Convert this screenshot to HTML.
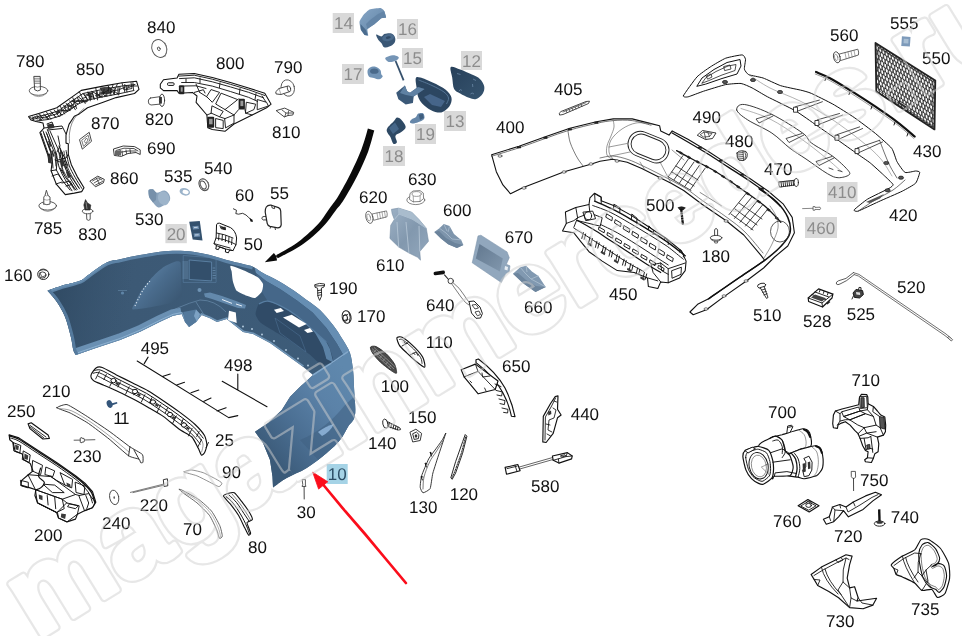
<!DOCTYPE html>
<html><head><meta charset="utf-8"><title>Parts diagram</title>
<style>
html,body{margin:0;padding:0;background:#fff;}
svg{display:block;}
text{font-family:"Liberation Sans",sans-serif;text-rendering:geometricPrecision;}
.l{font-size:17px;fill:#111;}
.p{fill:#fff;stroke:#333;stroke-width:0.8;stroke-linejoin:round;stroke-linecap:round;}
.n{fill:none;stroke:#333;stroke-width:0.7;stroke-linejoin:round;stroke-linecap:round;}
.t{fill:none;stroke:#555;stroke-width:0.5;stroke-linejoin:round;stroke-linecap:round;}
</style></head><body>
<svg width="962" height="636" viewBox="0 0 962 636">
<rect width="962" height="636" fill="#fff"/>

<!-- b_bumper -->
<g>
<defs>
<linearGradient id="bg1" gradientUnits="userSpaceOnUse" x1="47" y1="300" x2="330" y2="300"><stop offset="0" stop-color="#36526d"/><stop offset="0.3" stop-color="#3c5975"/><stop offset="1" stop-color="#3d5c79"/></linearGradient>
<linearGradient id="bg2" gradientUnits="userSpaceOnUse" x1="262" y1="450" x2="350" y2="375"><stop offset="0" stop-color="#3b5a78"/><stop offset="0.35" stop-color="#4b6f93"/><stop offset="0.7" stop-color="#5b82a8"/><stop offset="1" stop-color="#5f88ad"/></linearGradient>
<linearGradient id="bg3" gradientUnits="userSpaceOnUse" x1="138" y1="275" x2="172" y2="305"><stop offset="0" stop-color="#5d82a5"/><stop offset="0.45" stop-color="#4a6c8d"/><stop offset="1" stop-color="#3c5975"/></linearGradient>
<linearGradient id="bg4" gradientUnits="userSpaceOnUse" x1="50" y1="280" x2="130" y2="300"><stop offset="0" stop-color="#2f4962"/><stop offset="1" stop-color="#3a5671" stop-opacity="0"/></linearGradient>
</defs>
<clipPath id="bclip"><path d="M47.5 290.8 C49.9 290 56.3 287.5 61.7 285.8 C67.1 284.1 75.6 282.6 80 280.8 C84.4 279 83.8 278.1 88.3 275 C92.8 271.9 101.4 265.1 106.7 262.5 C112 259.9 114.5 260.4 120 259.2 C125.5 257.9 133.3 256.2 140 255 C146.7 253.8 153.9 252.4 160 251.7 C166.1 251 171.2 250.8 176.7 250.8 C182.2 250.8 187.4 251 193 251.7 C198.6 252.4 204.4 253.6 210 255 C215.6 256.4 221.2 258.5 226.7 260 C232.2 261.5 238.6 262.9 243 264 C247.4 265.1 249.7 265.2 253 266.7 C256.3 268.2 259.1 270.8 263 273 C266.9 275.2 271.7 277.2 276.7 280 C281.7 282.8 288 286.7 293 290 C298 293.3 302.2 296.7 306.7 300 C311.2 303.3 315.6 305.8 320 310 C324.4 314.2 329.2 320 333 325 C336.8 330 340.2 335.3 343 340 C345.8 344.7 348.3 348 350 353 C351.7 358 352.3 364.4 353 370 C353.7 375.6 353.7 379.2 354 386.7 C354.3 394.2 356 408.3 355 415 C354 421.7 350.5 422.5 348 426.7 C345.5 430.9 343.6 435.6 340 440 C336.4 444.4 332.2 448.3 326.7 453 C321.1 457.7 313.4 463.8 306.7 468 C300 472.2 292.3 474.8 286.7 478 C281.1 481.2 275.3 485.9 273 487.5 L272.5 476.7 L270 460 L263 443 L255 431.7 L268 423 L281.7 410 L290 396.7 L300 386.7 L313 375 L303 366.7 L286.7 355 L270 343 L253 334 L243 332 L238 328 L226.7 319 L217 322 L210 318.3 L201.7 315 L196 322 L189 327 L185 322 L181.7 314 L173 315.8 L160 321.7 L140 331.7 L120 340 L95 348.3 L75.8 355 L75.8 355 C75.4 354.2 74.1 353.1 73.3 350 C72.5 346.9 72.2 342.2 70.8 336.7 C69.4 331.1 67.3 322.5 65 316.7 C62.6 310.9 59.6 306 56.7 301.7 C53.8 297.4 49 292.6 47.5 290.8Z"/></clipPath>
<path d="M47.5 290.8 C49.9 290 56.3 287.5 61.7 285.8 C67.1 284.1 75.6 282.6 80 280.8 C84.4 279 83.8 278.1 88.3 275 C92.8 271.9 101.4 265.1 106.7 262.5 C112 259.9 114.5 260.4 120 259.2 C125.5 257.9 133.3 256.2 140 255 C146.7 253.8 153.9 252.4 160 251.7 C166.1 251 171.2 250.8 176.7 250.8 C182.2 250.8 187.4 251 193 251.7 C198.6 252.4 204.4 253.6 210 255 C215.6 256.4 221.2 258.5 226.7 260 C232.2 261.5 238.6 262.9 243 264 C247.4 265.1 249.7 265.2 253 266.7 C256.3 268.2 259.1 270.8 263 273 C266.9 275.2 271.7 277.2 276.7 280 C281.7 282.8 288 286.7 293 290 C298 293.3 302.2 296.7 306.7 300 C311.2 303.3 315.6 305.8 320 310 C324.4 314.2 329.2 320 333 325 C336.8 330 340.2 335.3 343 340 C345.8 344.7 348.3 348 350 353 C351.7 358 352.3 364.4 353 370 C353.7 375.6 353.7 379.2 354 386.7 C354.3 394.2 356 408.3 355 415 C354 421.7 350.5 422.5 348 426.7 C345.5 430.9 343.6 435.6 340 440 C336.4 444.4 332.2 448.3 326.7 453 C321.1 457.7 313.4 463.8 306.7 468 C300 472.2 292.3 474.8 286.7 478 C281.1 481.2 275.3 485.9 273 487.5 L272.5 476.7 L270 460 L263 443 L255 431.7 L268 423 L281.7 410 L290 396.7 L300 386.7 L313 375 L303 366.7 L286.7 355 L270 343 L253 334 L243 332 L238 328 L226.7 319 L217 322 L210 318.3 L201.7 315 L196 322 L189 327 L185 322 L181.7 314 L173 315.8 L160 321.7 L140 331.7 L120 340 L95 348.3 L75.8 355 L75.8 355 C75.4 354.2 74.1 353.1 73.3 350 C72.5 346.9 72.2 342.2 70.8 336.7 C69.4 331.1 67.3 322.5 65 316.7 C62.6 310.9 59.6 306 56.7 301.7 C53.8 297.4 49 292.6 47.5 290.8Z" fill="url(#bg1)"/>
<g clip-path="url(#bclip)">
<path d="M40 250 L140 250 L140 365 L40 365Z" fill="url(#bg4)"/>
<path d="M313 375 L330 364 L348 351.7 L356 362 L360 390 L360 415 L348 430 L340 444 L326.7 457 L306.7 472 L286.7 482 L273 492 L268 476.7 L266 460 L260 443 L250 431.7 L268 423 L281.7 410 L290 396.7 L300 386.7Z" fill="url(#bg2)"/>
<path d="M300 440 Q325 430 345 405 L356 395 L356 430 L320 462 Z" fill="#3f6182" opacity="0.55"/>
<path d="M318 432 Q326 426 334 424 Q330 432 322 436Z" fill="#86abd0"/>
<path d="M253 262 L263 270 L276.7 277 L293 287 L306.7 297 L320 307 L333 322 L344 338 L352 353 L356 362 L348 351.7 L343.7 355.7 L336.8 343.6 L326.4 328 L312.6 312.5 L297 300.4 L280 289 L266 281 L256 273Z" fill="#668eb3"/>
<path d="M256 273 L266 281 L280 289 L297 300.4 L312.6 312.5 L326.4 328 L336.8 343.6 L343.7 355.7 L333.3 362.6 L329.9 348.8 L326.4 341.9 L312.6 329.8 L297 315.9 L281.5 306.4 L267.7 301.2 L262 292Z" fill="#456789"/>
<path d="M259 303.8 C260.2 302.5 265.4 300.9 267.7 301.2 C269.9 301.5 278.6 304.9 281.5 306.4 C284.4 307.9 293.9 313.6 297 315.9 C300.1 318.2 309.7 327.2 312.6 329.8 C315.5 332.4 324.7 340 326.4 341.9 C328.1 343.8 329.2 346.7 329.9 348.8 C330.6 350.9 334.2 361.1 333.3 362.6 C332.4 364.2 323.6 365.2 321.2 364.3 C318.8 363.4 312 356.2 309.1 354 C306.2 351.8 295.3 344.1 291.9 341.9 C288.4 339.6 277.7 333.4 274.6 331.5 C271.5 329.6 262.6 324.5 260.7 322.8 C258.8 321.1 255.8 316.1 255.6 314.2 C255.4 312.3 257.8 305.1 259 303.8Z" fill="#304b67"/>
<path d="M314.3 331.5 L326.4 341.9 L330 349 L333.3 362.6 L326.4 359.1 L323 347Z" fill="#5b82a6"/>
<path d="M259 303.8 C260.4 303.4 263.9 300.8 267.7 301.2 C271.4 301.6 276.6 303.9 281.5 306.4 C286.4 308.8 291.8 312 297 315.9 C302.2 319.8 307.7 325.5 312.6 329.8 C317.5 334.1 324.1 339.9 326.4 341.9" fill="none" stroke="#587ea2" stroke-width="1.2"/>
<path d="M275 318 L300 336 L306 352 L280 333Z" fill="none" stroke="#4c6f92" stroke-width="0.6"/>
<path d="M313 375 L330 364 L348 351.7" fill="none" stroke="#83a8ca" stroke-width="1.5"/>
<path d="M47.5 290.8 C49.9 290 56.3 287.5 61.7 285.8 C67.1 284.1 75.6 282.6 80 280.8 C84.4 279 83.8 278.1 88.3 275 C92.8 271.9 101.4 265.1 106.7 262.5 C112 259.9 114.5 260.4 120 259.2 C125.5 257.9 133.3 256.2 140 255 C146.7 253.8 153.9 252.4 160 251.7 C166.1 251 171.2 250.8 176.7 250.8 C182.2 250.8 187.4 251 193 251.7 C198.6 252.4 204.4 253.6 210 255 C215.6 256.4 221.2 258.5 226.7 260 C232.2 261.5 238.6 262.9 243 264 C247.4 265.1 251.3 266.2 253 266.7" fill="none" stroke="#5d83a6" stroke-width="6"/>
<path d="M47.5 290.8 C49.9 290 56.3 287.5 61.7 285.8 C67.1 284.1 75.6 282.6 80 280.8 C84.4 279 83.8 278.1 88.3 275 C92.8 271.9 103.6 264.6 106.7 262.5" fill="none" stroke="#6a90b2" stroke-width="3"/>
<path d="M303 366.7 L286.7 355 L270 343 L253 334 L243 332 L238 328 L226.7 319 L217 322 L210 318.3 L201.7 315 L196 322 L189 327 L185 322 L181.7 314 L173 315.8 L160 321.7 L140 331.7 L120 340 L95 348.3 L75.8 355" fill="none" stroke="#6f94b5" stroke-width="3.2"/>
<path d="M181.7 314 L173 315.8 L160 321.7 L140 331.7 L120 340 L95 348.3 L75.8 355" fill="none" stroke="#6a90b3" stroke-width="13"/>
<path d="M181.7 312.5 L173 314.3 L160 320.2 L140 330.2 L120 338.5 L95 346.8 L77 353" fill="none" stroke="#8fb2d1" stroke-width="1"/>
<path d="M75.8 355 C75.4 354.2 74.1 353.1 73.3 350 C72.5 346.9 72.2 342.2 70.8 336.7 C69.4 331.1 67.3 322.5 65 316.7 C62.6 310.9 59.6 306 56.7 301.7 C53.8 297.4 49 292.6 47.5 290.8" fill="none" stroke="#557a9d" stroke-width="6"/>
<path d="M132.4 309.2 C131.3 308.5 135.1 302.8 136 301 C136.9 299.2 139.6 293.2 141 291 C142.4 288.8 148.6 281.3 150.3 279.4 C152 277.4 156.5 272.9 158 271.5 C159.5 270.1 163.5 266.9 165.3 265.9 C167.1 264.9 174.2 261.7 175.7 261.4 C177.2 261.1 180 261.1 180.5 262.5 C181 263.9 180.9 272.4 181 275 C181.1 277.6 181.4 286.8 181.5 289 C181.6 291.2 182.9 295.9 181.7 297.3 C180.5 298.7 173.2 302.2 169.8 303.3 C166.4 304.4 151.1 307.2 147.4 307.8 C143.7 308.4 133.5 309.9 132.4 309.2Z" fill="url(#bg3)"/>
<path d="M135 306 C135.7 304.6 137.5 300.4 139 297.5 C140.5 294.6 142.2 291.2 144 288.5 C145.8 285.8 149 282.2 150 281" fill="none" stroke="#e3edf5" stroke-width="1.1" stroke-dasharray="1.1 2"/>
<path d="M183.2 255.5 L216.1 258 L216.1 282.4 L183.2 282.4Z" fill="none" stroke="#5a7fa2" stroke-width="0.6"/>
<path d="M189.2 260 L211.6 262 L211.6 280.9 L189.2 279.5Z" fill="#334f6b" stroke="#5d83a6" stroke-width="0.9"/>
<path d="M182.5 262 h5.6 M182.5 264 h5.6 M182.5 266 h5.6 M182.5 268 h5.6 M182.5 270 h5.6 M182.5 272 h5.6 M182.5 274 h5.6 M182.5 276 h5.6 M182.5 278 h5.6 M212.6 268 h2.6 M212.6 270.5 h2.8 M212.6 273 h3 M212.6 275.5 h3.2 M212.6 278 h3.4" fill="none" stroke="#6e93b5" stroke-width="0.7"/>
<path d="M204 293.5 L210 292.5 L222 296 L236 301 L246 305 L245 308.5 L238 308 L225 303.5 L212 299 L205 297Z" fill="#6389ac"/>
<path d="M222 299.5 L232 303.4 M236 304 L242 306" stroke="#e6eef6" stroke-width="1" fill="none"/>
<circle cx="199.5" cy="290" r="2" fill="#6f94b5"/>
<circle cx="122.5" cy="293" r="1.6" fill="#5f85a7"/>
<path d="M118 290.5 h9" stroke="#6f94b5" stroke-width="0.5" fill="none"/>
<path d="M183.2 312 L196 309.5 L200 314 L197 322 L190 327.5 L185 322Z" fill="#54799c"/>
<path d="M196 309.5 L200 314 L197 322 L194 316Z" fill="#7da2c4"/>
<path d="M150 322 Q180 305 200 300 Q215 300 226 312 M196 302 L206 318" fill="none" stroke="#7094b4" stroke-width="0.6"/>
<circle cx="243.0" cy="326.5" r="0.9" fill="#bcd3e6"/>
<circle cx="252.0" cy="329.0" r="0.9" fill="#bcd3e6"/>
<circle cx="262.0" cy="334.5" r="0.9" fill="#bcd3e6"/>
<circle cx="274.0" cy="341.0" r="0.9" fill="#bcd3e6"/>
<circle cx="286.0" cy="350.0" r="0.9" fill="#bcd3e6"/>
<circle cx="298.0" cy="358.5" r="0.9" fill="#bcd3e6"/>
<circle cx="308.0" cy="365.5" r="0.9" fill="#bcd3e6"/>
</g>
<path d="M230.8 265.8 C232.3 265.8 244 270.5 246.7 271.7 C249.4 272.9 256.4 276.3 258 277.5 C259.6 278.7 262.6 282.6 263 284 C263.4 285.4 262.5 290.3 261.7 291.7 C260.9 293.1 256.5 297.6 255 298 C253.5 298.4 248.5 296.5 246.7 295.8 C244.9 295.1 238.1 292.2 236.7 290.8 C235.3 289.4 233.5 283.6 233 281.7 C232.5 279.8 231.9 273.3 231.7 271.7 C231.5 270.1 229.3 265.8 230.8 265.8Z" fill="#fff"/>
<path d="M229 310.8 L235.8 312.5 L236.7 323 L228 320Z" fill="#fff"/>
<path d="M274 309.7 L280.8 308 L284 311 L276.7 313Z" fill="#fff"/>
<path d="M283 317.5 L291.7 314.7 L306.7 324 L299 327.5Z" fill="#fff"/>
<path d="M304 330 L310 328 L313 331.7 L307.5 333Z" fill="#fff"/>
</g>

<!-- c_blue1 -->
<g>
<defs>
<linearGradient id="g14" x1="0" y1="0" x2="1" y2="1"><stop offset="0" stop-color="#86a6c6"/><stop offset="1" stop-color="#5e80a2"/></linearGradient>
<linearGradient id="g12" x1="0" y1="0" x2="1" y2="1"><stop offset="0" stop-color="#27405a"/><stop offset="1" stop-color="#36546f"/></linearGradient>
</defs>
<path d="M359.5 21.8 C359.7 20.5 363 15.6 363.8 14.6 C364.6 13.6 368.2 10.1 369.6 9.5 C371 8.9 379.4 7.9 380.6 8 C381.8 8.1 383.7 10.1 384.2 10.9 C384.7 11.7 386.3 16.9 386.1 17.5 C385.9 18.1 382.2 17.7 381.3 18.2 C380.4 18.7 375.8 23.1 374.7 24 C373.6 24.9 368 28.1 367.5 29.1 C367 30.1 368.4 35.2 368.2 35.7 C368 36.2 365.2 35.4 364.6 34.9 C364 34.4 361.3 30.9 360.9 29.8 C360.5 28.7 359.3 23.1 359.5 21.8Z" fill="url(#g14)"/>
<path d="M366 24 L370 20 L378 14 L384.2 10.9 L386.1 17.5 L381.3 18.2 L374.7 24 L367.5 29.1Z" fill="#6485a7"/>
<path d="M360.5 24 L366 30 L367.5 35 L364.6 34.9 L360.9 29.8Z" fill="#4b6c8e"/>
<path d="M376.2 34.6 C376.7 34 379.9 36.5 381.3 36.4 C382.8 36.3 383.2 34.3 384.9 33.8 C386.6 33.3 389.8 32.8 391.5 33.5 C393.2 34.2 394.6 36.2 395.1 37.8 C395.6 39.4 395.4 41.4 394.4 42.9 C393.4 44.4 391 45.9 389.3 46.6 C387.6 47.3 385.5 47.9 384.2 47.3 C382.9 46.7 382.3 44.1 381.3 42.9 C380.3 41.7 379.2 41.4 378.4 40 C377.5 38.6 375.7 35.2 376.2 34.6Z" fill="#3a5775"/>
<ellipse cx="388.3" cy="37.6" rx="6.2" ry="3.4" fill="#4a6a8b" transform="rotate(-12 388.3 37.6)"/>
<ellipse cx="388.3" cy="37.6" rx="2.5" ry="1.3" fill="#2f4a66" transform="rotate(-12 388.3 37.6)"/>
<path d="M395.6 61 L403.6 80.3" fill="none" stroke="#35506c" stroke-width="1.8"/>
<path d="M385.2 58.2 C385.3 57.2 387.9 56.5 389.3 56 C390.7 55.5 392.1 55 393.7 55.3 C395.3 55.5 398.6 56.5 398.8 57.5 C399 58.5 396.8 60.4 395.1 61.1 C393.4 61.8 390.2 62.4 388.6 61.9 C387 61.4 385.1 59.2 385.2 58.2Z" fill="#7595b6"/>
<path d="M367.5 71.3 C367.6 69.8 368.3 68.5 369.6 67.7 C370.9 66.9 373.7 66.3 375.5 66.7 C377.3 67.1 379.3 68.7 380.3 69.9 C381.3 71.2 380.9 73.1 381.3 74.2 C381.7 75.3 383.1 75.6 382.7 76.4 C382.3 77.2 380.6 79 379.1 79.3 C377.7 79.5 375.7 78.4 374 77.9 C372.3 77.4 370 77.5 368.9 76.4 C367.8 75.3 367.4 72.8 367.5 71.3Z" fill="#7193b5"/>
<ellipse cx="374.3" cy="71.2" rx="4.2" ry="2.6" fill="#4a6a8b"/>
<path d="M450.8 67 C452.1 65.7 456.7 68.2 460.2 69.5 C463.7 70.8 468.6 73 471.9 74.6 C475.2 76.2 477.8 77 479.9 78.9 C481.9 80.8 483.7 83.8 484.2 86.2 C484.7 88.6 484.1 91.4 482.8 93.5 C481.5 95.6 478.5 98.3 476.2 99 C473.9 99.7 471.7 98.7 469 97.8 C466.3 96.9 462.7 95 460.2 93.5 C457.7 92 455.4 91.8 454.1 89.1 C452.8 86.4 452.8 81.2 452.2 77.5 C451.6 73.8 449.5 68.3 450.8 67Z" fill="url(#g12)"/>
<path d="M457 73.5 L460.5 74.5 M473 79 L476 80.5 M472.5 84 L472.8 87 M459 91 Q460.5 88.5 462 90.5 M470.5 94 Q472 92 474 94" fill="none" stroke="#7c9aba" stroke-width="0.6"/>
<path d="M415.8 78.2 C416.4 76.5 417.4 76.8 420.2 77.5 C423 78.2 428.4 80.5 432.6 82.6 C436.9 84.6 442.6 87.3 445.7 89.8 C448.8 92.3 450.9 95 451.5 97.8 C452.1 100.6 451 104.2 449.3 106.6 C447.6 109 444.3 111.8 441.3 112.4 C438.3 113 434.2 111.7 431.1 110.2 C428 108.8 424.6 106 422.4 103.7 C420.2 101.4 419 99.1 418 96.4 C417 93.7 417 90.7 416.6 87.7 C416.2 84.7 415.2 79.9 415.8 78.2Z" fill="#2c4661"/>
<path d="M418.5 80 C420.8 80.9 427.8 83.5 432 85.5 C436.2 87.5 441.2 89.9 444 92 C446.8 94.1 448.1 96 448.5 98 C448.9 100 446.8 103 446.5 104" fill="none" stroke="#5a7b9c" stroke-width="0.9"/>
<path d="M424 97 L430 94 L445 101 L441 107 L432 105Z" fill="#46658a"/>
<path d="M396.2 92.7 L404.9 85.5 L407.1 91.3 L410 92.7 L418 86.9 L424.6 89.1 L413.7 96.4 L412.9 102.9 L405.7 104.4 L398.4 99.3Z" fill="#3b5978"/>
<path d="M404.9 85.5 L407.1 91.3 L410 92.7 L418 86.9 L424.6 89.1 L413.7 96.4 L406 95 L400 93Z" fill="#5f81a3"/>
<path d="M410 122.4 C409.6 121.8 410.5 120.4 411.5 119.5 C412.5 118.6 414.9 118 416 117 C417.1 116 417 114.2 418.2 113.6 C419.4 113 422.3 112.6 423.3 113.4 C424.3 114.2 424.9 117.2 424.3 118.6 C423.8 120 421.7 120.8 420 121.6 C418.3 122.4 415.7 123.3 414 123.4 C412.3 123.5 410.4 123.1 410 122.4Z" fill="#6687a9"/>
<path d="M418.8 114.5 L423 114 L423.8 118 L420 120Z" fill="#3f5e7e"/>
<path d="M387.2 128.4 C388.3 126.5 392.4 122.9 394 121.1 C395.6 119.3 395.7 117.7 396.9 117.5 C398.1 117.3 399.8 118.1 401.3 119.7 C402.8 121.3 405.7 124.9 405.7 126.9 C405.7 129 403 130.5 401.3 132 C399.6 133.5 396.2 134 395.5 135.7 C394.8 137.4 397.3 140.9 396.9 142.2 C396.5 143.5 394.4 144.5 393.3 143.7 C392.2 142.8 391.4 138.9 390.4 137.1 C389.4 135.3 388 134.2 387.5 132.8 C387 131.4 386.1 130.4 387.2 128.4Z" fill="#2e4964"/>
<path d="M389 128 L395 122.5 L399 129 L393 134Z" fill="#456688"/>
</g>

<!-- c_blue2 -->
<g>
<defs>
<linearGradient id="g610" x1="0" y1="0" x2="1" y2="1"><stop offset="0" stop-color="#9db1c5"/><stop offset="0.5" stop-color="#8298ae"/><stop offset="1" stop-color="#94a9be"/></linearGradient>
<linearGradient id="g670" x1="0" y1="0" x2="1" y2="1"><stop offset="0" stop-color="#62788f"/><stop offset="1" stop-color="#8197ad"/></linearGradient>
</defs>
<path d="M391.4 209.3 L398.7 208.1 L411.8 212.2 L419 219.5 L426.3 228.2 L428.5 241.3 L419.8 251.5 L420.5 260.2 L417.6 257.3 L408.9 253 L398.7 247.1 L389.9 238.4 L390.7 225.3 L394.3 219.5 L392.1 213.7Z" fill="url(#g610)" stroke="#6f879f" stroke-width="0.5"/>
<path d="M394.3 219.5 L399 214 L412 219 L426.3 228.2 M399 214 L398.7 208.1 M412 219 L411.8 212.2 M397 222 L398.7 247.1 M406 222 L408.9 253 M419 226 L419.8 251.5" fill="none" stroke="#b9c9d8" stroke-width="0.8"/>
<path d="M399 214 L412 219 L426.3 228.2 L419 219.5 L411.8 212.2 L398.7 208.1Z" fill="#a9bccd"/>
<path d="M434.3 231.9 L439.4 228.2 L443.8 224.1 L449.6 226 L454 234 L461.2 239.9 L463.4 245 L456.9 247.9 L448.1 244.2 L440.9 238.4Z" fill="#7e95ac"/>
<path d="M439.4 228.2 L446 233 L452 239 L461.2 239.9 M443.8 224.1 L447 231 M449.6 226 L448 232" fill="none" stroke="#a5b8ca" stroke-width="0.9"/>
<path d="M434.3 231.9 L440.9 238.4 L448.1 244.2 L456.9 247.9 L463.4 245 L455 243 L446 238 L439 231Z" fill="#6b839b"/>
<path d="M478 235.9 L480.9 235.2 L507.1 251.9 L509.3 257.7 L506.4 264.3 L510 265.8 L509.3 271.6 L505.7 273.8 L501.3 282.5 L472.2 262.8Z" fill="#91a7bd" stroke="#778ea6" stroke-width="0.5"/>
<path d="M479.5 243.9 L502.8 258.5 L499.9 271.6 L475.8 258.5Z" fill="url(#g670)"/>
<path d="M505 266 L508 267 L507.5 270.5 L504.5 269.5Z" fill="#e8eef4"/>
<path d="M513 273.8 L520.2 267.2 L526.1 265.8 L531.9 271.6 L538.4 275.9 L545.7 286.9 L535.5 291.9 L523.1 283.2Z" fill="#8199b1"/>
<path d="M520.2 267.2 L525 273 L531 279 L538.4 275.9 M526.1 265.8 L527 272 M531 279 L545.7 286.9" fill="none" stroke="#a9bccd" stroke-width="0.9"/>
<path d="M513 273.8 L523.1 283.2 L535.5 291.9 L545.7 286.9 L536 286 L526 280 L518 273Z" fill="#6d859d"/>
</g>

<!-- d_small1 -->
<g>
<ellipse cx="415.8" cy="200" rx="9" ry="4.6" class="p" style="stroke:#666"/>
<path d="M409.5 199 L410 193.5 L413 191 L420 190.6 L423.3 193 L423.6 198.6 L420 201.5 L413.5 201.8Z" class="p" style="stroke:#666"/>
<ellipse cx="416.6" cy="194" rx="4.6" ry="2.4" class="n" style="stroke:#777"/>
<path d="M413.5 201.8 L413.2 196 M420 201.5 L420.2 195.8" class="t"/>
<path d="M372.5 213.9 L386.5 210.9 Q387.6 213.5 387 216.8 L374 220.2Z" class="p" style="stroke:#666"/>
<path d="M377 213 L378 219 M379.5 212.5 L380.5 218.5 M382 212 L383 218 M384.5 211.4 L385.4 217.3" class="t"/>
<ellipse cx="369.3" cy="217.3" rx="3.4" ry="6.2" class="p" style="stroke:#555" transform="rotate(-14 369.3 217.3)"/>
<ellipse cx="368.7" cy="217.4" rx="1.7" ry="3.6" class="t" transform="rotate(-14 368.7 217.4)"/>
<rect x="433.6" y="271.2" width="11.4" height="3.6" rx="1.6" fill="#111" transform="rotate(-8 439 273)"/>
<path d="M444.3 274.6 L448.5 279.5" fill="none" stroke="#222" stroke-width="1.1"/>
<circle cx="450.7" cy="281" r="2.7" class="n" style="stroke:#333;stroke-width:0.9"/>
<path d="M452.8 282.5 Q460 288 464 295 T470.5 303 M451.5 283.6 Q456 290 461 297 T469 305" fill="none" stroke="#444" stroke-width="0.7"/>
<path d="M469 301.5 L474 301 L480 307 L482.4 313.5 L480.5 318 L476 318.3 L471.5 313 Z" fill="#fff" stroke="#222" stroke-width="1"/>
<path d="M472 305 L476 304.5 L478.5 308 L475 309Z M475 312 L479 311 L480.6 314.5 L477.4 315.8Z" fill="none" stroke="#222" stroke-width="0.8"/>
</g>

<!-- d_small2 -->
<g>
<ellipse cx="47.7" cy="205.8" rx="8.8" ry="4.3" class="p" style="stroke:#444;stroke-width:0.9"/>
<path d="M40 208 Q47.7 215 55.5 208" class="n" style="stroke:#666;stroke-width:0.7"/>
<path d="M43.8 204 L43.8 197 L45 195.5 L46.4 190.2 L48 195.5 L50 197 L50 204 Q47 205.5 43.8 204Z" class="p" style="stroke:#444;stroke-width:0.9"/>
<path d="M43.8 199.5 Q47 201 50 199.5 M45 195.5 Q46.5 196.5 48 195.5" class="t"/>
<path d="M86.4 211 L86.8 219.5 Q88.5 221.2 90.2 219.5 L90.2 211Z" class="p" style="stroke:#444;stroke-width:0.9"/>
<ellipse cx="87.6" cy="211.2" rx="5.3" ry="2.6" class="p" style="stroke:#444;stroke-width:0.9"/>
<path d="M85.5 199.6 L83.8 205 L85 210 L90 210 L90.8 205 L87.5 203Z" fill="#333" stroke="#222" stroke-width="0.6"/>
<path d="M86 202 L87 209" stroke="#bbb" stroke-width="0.6" fill="none"/>
<path d="M79.8 139.4 L89.2 132.3 L91.5 141.3 L82.6 148.9Z" class="p" style="stroke:#333;stroke-width:0.9"/>
<path d="M82 140 L88.2 135.2 L89.6 141 L83.8 146Z M84.5 141 L86.5 138 L88 140 L86 143Z" class="n" style="stroke:#444;stroke-width:0.7"/>
<path d="M113.8 148.9 L123.2 146 L134.5 146.6 L140.2 149.8 L140.2 154.5 L136 152.5 L128 153.5 L121.3 156.4 L114.7 155.5Z" class="p" style="stroke:#222;stroke-width:0.9"/>
<path d="M116 150.5 L124 148.2 L134 148.6 L138 151 M118 152 L118.5 155.5 M122 151 L122.5 155.5 M126 150 L126.5 153.5 M130 149.5 L130.5 153 M116 153 L128 151 L136 151" class="n" style="stroke:#222;stroke-width:0.8"/>
<path d="M115 151 L121 150 L121 155.5 L115 155Z" fill="#666"/>
<path d="M90.2 180.9 L97.7 176.2 L104.3 179.4 L103.4 182.8 L95.8 186.6Z" class="p" style="stroke:#222;stroke-width:0.9"/>
<path d="M92.5 181 L98 177.8 L102 180 M94 183 L100 179.5 M95.5 185 L102.5 181.5 M96.5 178.5 L99.5 184" class="n" style="stroke:#333;stroke-width:0.8"/>
<path d="M148.6 190 C149.2 188.7 151.7 188.8 153 189.2 C154.3 189.6 154.6 192.5 156.5 192.7 C158.4 192.9 162.4 190.1 164.5 190.4 C166.6 190.7 168.3 192.8 169.2 194.5 C170.1 196.2 170.6 198.8 169.8 200.6 C169 202.4 166.4 204 164.5 205.1 C162.6 206.2 160.2 207.8 158.3 207.4 C156.4 207 154.5 204.1 153 202.4 C151.5 200.7 149.8 199.2 149.1 197.1 C148.4 195 147.9 191.3 148.6 190Z" fill="#8ba4bd"/>
<ellipse cx="163.7" cy="198.3" rx="5.6" ry="7" fill="#9db4ca" transform="rotate(-20 163.7 198.3)"/>
<path d="M148.6 190 L153 189.2 L156.5 192.7 L156 200 L153 202.4 L149.1 197.1Z" fill="#7690aa"/>
<ellipse cx="184.8" cy="191.8" rx="5.3" ry="3.7" fill="#9bb3ca" transform="rotate(15 184.8 191.8)"/>
<ellipse cx="185.6" cy="192" rx="3.1" ry="2.1" fill="#fff" transform="rotate(15 185.6 192)"/>
<ellipse cx="203.8" cy="184.7" rx="4.6" ry="6.2" class="p" style="stroke:#444;stroke-width:1" transform="rotate(-25 203.8 184.7)"/>
<ellipse cx="203.2" cy="185" rx="2.6" ry="4.2" class="n" style="stroke:#444;stroke-width:0.9" transform="rotate(-25 203.2 185)"/>
<ellipse cx="204.6" cy="184.4" rx="4" ry="5.6" class="n" style="stroke:#777;stroke-width:0.6" transform="rotate(-25 204.6 184.4)"/>
<path d="M233.4 208.8 L236.5 210.3 L235.8 213.6 L238.5 214.2 Q243 212 246 215 T251 219.5" class="n" style="stroke:#222;stroke-width:0.9"/>
<path d="M249.5 218 L252.5 219.8 L252.8 222 L250.5 221.5Z" fill="#111"/>
<path d="M266.3 207 Q268 204.6 271.4 205.2 L278.5 207.6 Q280.6 208.6 280.7 211 L281.2 224.6 Q281 227.6 277.6 227.8 L270 226.4 Q267.6 225.6 267.2 223.4 L265.2 212 Q265 209 266.3 207Z" class="p" style="stroke:#222;stroke-width:1.2"/>
<path d="M265.6 216.5 Q261.8 216 261.8 218.6 Q262.4 220.6 266 220 M271.6 205.5 L272.2 208 L274.6 208.6 L274.6 206.4 M275 227.8 L275.4 229.6 M270.6 226.6 L270.2 228.2" class="n" style="stroke:#222;stroke-width:0.9"/>
<path d="M189.2 221.8 L199.8 221 L202.5 240.4 L192.7 239.5Z" fill="#34516e"/>
<path d="M192.5 226.3 L198.5 225.8 L199 229 L193 229.5Z M193.6 233.5 L199.6 233 L200.2 236.6 L194.2 237Z" fill="#6f8fb0"/>
<path d="M194 227.6 L197.6 227.3 M195 235 L198.6 234.8" stroke="#dbe6f0" stroke-width="0.8" fill="none"/>
<path d="M216.6 224.5 Q217 222.6 219.6 223.2 L230.5 227.6 Q235.6 230.6 236.6 238 L236 244.6 L233 250.6 L229.6 250 L228.4 252.8 L225.4 252 L225.6 249 L219.6 247 L218.4 249.6 L215.8 249 L216.4 245.6 L214 243.6 L216 238Z" class="p" style="stroke:#111;stroke-width:1"/>
<path d="M216 238 L224 239.6 L232 242.6 L236 244.6 M216.6 233 L224.6 234.8 L233 238 M216.4 245.6 L225.6 249 L233 250.6 M214 243.6 L222 245.8 L230 248 M219 234 L218.6 240 M222.4 234.6 L222 240.6 M225.8 235.6 L225.4 241.6 M229 237 L228.6 243 M232 238.6 L231.6 244.6 M220 225.6 L221 228.6 L225.4 229.8 L225 227" class="n" style="stroke:#111;stroke-width:0.9"/>
<path d="M221 226 L225.5 227.5 L225.8 230 L221.3 228.6Z" fill="#222"/>
<ellipse cx="43.3" cy="274.3" rx="5.6" ry="5.2" class="p" style="stroke:#222;stroke-width:1"/>
<ellipse cx="42.6" cy="275" rx="3.4" ry="3.1" class="n" style="stroke:#333;stroke-width:0.9"/>
<path d="M40 273 L42 277 L45.6 275.6 M39.6 270.6 Q43 268.6 47 270.6" class="n" style="stroke:#333;stroke-width:0.8"/>
</g>

<!-- d_small3 -->
<g>
<ellipse cx="38.5" cy="90.8" rx="9.3" ry="4.5" class="p" style="stroke:#555;stroke-width:0.9"/>
<path d="M31 93.5 Q38.5 100 46.5 93.5" class="n" style="stroke:#777;stroke-width:0.7"/>
<path d="M34.2 76.4 L40.2 76.4 L40.4 90 Q37.5 92 35 90Z" class="p" style="stroke:#333;stroke-width:0.9"/>
<path d="M34.4 78.3 L40.2 78.3 M34.4 80 L40.2 80 M34.5 81.7 L40.3 81.7 M34.6 83.4 L40.3 83.4 M34.8 86.6 Q37.5 87.8 40.3 86.6" class="n" style="stroke:#444;stroke-width:0.6"/>
</g>

<!-- e_800 -->
<g>
<path d="M160.3 84.3 L163.5 79.7 L177.1 77.9 L178.9 74.3 L194.3 73.4 L212.3 77.4 L230.4 82.5 L248.5 87.9 L264.8 93.3 L271.1 104.2 L266.6 107.8 L252.1 115 L234 124 L225 131.3 L212.3 129.5 L207.8 127.7 L206.9 115 L196.1 102.3 L197 96 L192.4 92.4 L178.9 93.3 L177.1 90.6 L163.5 90.6 L160.3 87.9Z" class="p" style="stroke:#111;stroke-width:1.05"/>
<path d="M178.9 76.1 L194.3 75.2 L212.3 79.2 L230.4 84.3 L248.5 89.7 L264.8 95.5 M179.5 78.6 L194.3 77.8 L212.3 81.8 L230.4 86.9 L248.5 92.3 L263.5 97.8 M181.6 82.5 L194.3 82.5 L212.3 86.1 L230.4 91.5 L248.5 97.3 L257.6 101.4 M184.5 86 L196.1 85.8 L206 88.5" class="n" style="stroke:#1a1a1a;stroke-width:0.95"/>
<path d="M211.4 89.7 L219.6 92.4 L212.3 102.3 L206.9 96.9Z" class="n" style="stroke:#1a1a1a;stroke-width:0.95"/>
<path d="M221.4 93.3 L237.7 99.6 L225 109.6 L216 104.2Z" class="n" style="stroke:#1a1a1a;stroke-width:0.95"/>
<path d="M212.3 106 L223.2 111.4 L219.6 116.8 L211.4 113.2Z" class="n" style="stroke:#1a1a1a;stroke-width:0.95"/>
<path d="M246.7 102.3 L255.7 104.2 L253.9 109.6 L245.8 113.2Z" class="n" style="stroke:#1a1a1a;stroke-width:0.95"/>
<path d="M257.6 99.6 L266.6 102.3 L268.4 106 L257.6 109.6Z" class="n" style="stroke:#1a1a1a;stroke-width:0.95"/>
<path d="M225 118.6 L234 115 L234 123.1 L225.9 127.7Z" class="n" style="stroke:#1a1a1a;stroke-width:0.95"/>
<path d="M216 118.6 L223.2 120.4 L223.2 128.6 L216 127.7Z" class="n" style="stroke:#1a1a1a;stroke-width:0.95"/>
<path d="M196.1 84.3 L199.7 92.4 M194.4 92.4 L203.4 89.7 L205 93 M199.7 92.4 L206.9 96.9 M237.7 99.6 L238.6 98.7 M234 115 L238.6 109.6 M244.9 109.6 L245.8 113.2 L252.1 115 M219.6 116.8 L225 118.6 M225 109.6 L234 115 M186 79 L186 82.4 M200 78 L200 82.8 M220 82.8 L219.4 87.6 M240 88.6 L239.4 94 M256 93.6 L255 99.6 M262 96 L266 102 M206.9 115 L211.4 113.2" class="n" style="stroke:#1a1a1a;stroke-width:0.95"/>
<rect x="178.9" y="85.2" width="5.4" height="9.0" rx="1" fill="#222"/>
<rect x="180.7" y="87.2" width="2.0" height="4.5" fill="#999"/>
<rect x="238.6" y="98.7" width="6.3" height="10.9" rx="1" fill="#222"/>
<rect x="240.4" y="100.7" width="2.9" height="5.4" fill="#999"/>
<rect x="207.3" y="116.8" width="6.9" height="10.9" rx="1" fill="#222"/>
<rect x="209.1" y="118.8" width="3.5" height="5.5" fill="#999"/>
<rect x="167.5" y="82.8" width="6.6" height="2.6" rx="1" fill="#fff" stroke="#111" stroke-width="1"/>
<ellipse cx="159.3" cy="48.5" rx="7.3" ry="9.2" class="p" style="stroke:#555;stroke-width:0.9" transform="rotate(-22 159.3 48.5)"/>
<path d="M165 43 Q168.5 49 165 56.5" class="n" style="stroke:#777;stroke-width:0.7"/>
<ellipse cx="158.8" cy="48.8" rx="1.3" ry="1.9" class="n" style="stroke:#444;stroke-width:0.8" transform="rotate(-22 158.8 48.8)"/>
<path d="M150.5 98 L160.5 96.6 L161 104 L151 105 Q148 104.5 148.3 101 Q148.5 98.5 150.5 98Z" class="p" style="stroke:#444;stroke-width:0.9"/>
<ellipse cx="162" cy="100.3" rx="2.6" ry="6.2" class="p" style="stroke:#333;stroke-width:0.9"/>
<rect x="159.3" y="97" width="2.6" height="6.6" fill="#333"/>
<ellipse cx="287.8" cy="88" rx="6.6" ry="8.3" class="p" style="stroke:#555;stroke-width:0.9" transform="rotate(-15 287.8 88)"/>
<path d="M276 91.5 L279 88.5 L288 86 L290 91.5 L281 94.5 L276.5 94Z" class="p" style="stroke:#333;stroke-width:0.9"/>
<path d="M279 88.5 L281 94.5" class="t"/>
<ellipse cx="289" cy="88.7" rx="1.6" ry="2.9" class="p" style="stroke:#333;stroke-width:0.8" transform="rotate(-15 289 88.7)"/>
<path d="M276.5 110.5 L284.7 108.1 L293.7 112.3 L292.8 115 L288 115.5 L284.7 116.8Z" class="p" style="stroke:#333;stroke-width:0.9"/>
<path d="M282 110 L286 113 L284.7 116.8 M286 113 L293 113 M288.5 111 L288 115.5" class="n" style="stroke:#333;stroke-width:0.8"/>
</g>

<!-- e_850 -->
<g>
<path d="M28.6 116.6 L40.4 112.9 L56.8 107.8 L71.1 97.6 L81.3 90.4 L101.8 86.4 L122.2 82.7 L136.5 81.2 L139 89.4 L134.5 93.5 L116.1 97.6 L101.8 102.7 L87.5 107.8 L79.3 113.9 L74.3 116.2 L69 124.4 L66 134.9 L66 143.1 L68.3 143.8 L68.3 154.3 L71.3 164.7 L77.2 176.6 L84 187.8 L81.7 191.6 L74.3 193.1 L65.3 194.6 L56.3 184.1 L51.1 170.7 L52 163 L48.9 162.5 L48.1 155.7 L39.9 132.6 L44 128 L43 123 L36 121.5 L31 120Z" class="p" style="stroke:#111;stroke-width:1.1"/>
<path d="M33 117.5 L45 115 L58 111 L72 101 L83 93.5 L102 89.5 L122 86 L135 84.5 M36 121 L48 119.5 L60 116 L70 110 L78 104 L88 100 L102 97 L118 94 L134 90.5" class="n" style="stroke:#1a1a1a;stroke-width:0.95"/>
<path d="M45 115 L48 119.5 M52 113 L56 117.5 M58 111 L62 115 M65 106 L70 110 M72 101 L78 104 M78 96.5 L84 101.5 M83 93.5 L88 100 M92 91.5 L94 98.5 M102 89.5 L102 97 M110 88 L111 95.5 M118 86.8 L118 94 M126 85.5 L127 92 M58 111 L70 110 M72 101 L84 101.5 M92 91.5 L102 97 M110 88 L118 94" class="n" style="stroke:#1a1a1a;stroke-width:0.95"/>
<path d="M122 83 L124 90 L132 88.5 L131 82.5 M126 86 L137 86" class="n" style="stroke:#222;stroke-width:0.9"/>
<path d="M84 108.5 C82.8 109.6 79 112.6 77 115 C75 117.4 73.2 120 72 123 C70.8 126 69.9 129.7 69.5 133 C69.1 136.3 69.5 141.3 69.5 143" class="n" style="stroke:#444;stroke-width:0.6"/>
<path d="M47.4 129.6 L54.9 149.8 L57.1 160.2 L56.3 169.9 M43 131 L51 152 L52 163 M44 128 L62 126 L66 134 M47 124 L52 122 L54 127 M48 130 L62 128.5" class="n" style="stroke:#1a1a1a;stroke-width:1"/>
<path d="M56.3 169.9 L51.1 170.7 M56.3 169.9 L62 180 L70 190 M60 168 L66 178 L76 190 M64 160 L68 172 L79 188 M58 150 L62 160 L66 168 M62 152 L68 166 M57.1 160.2 L66 158 L68.3 154.3 M59 146 Q62 150 60 158" class="n" style="stroke:#1a1a1a;stroke-width:1"/>
<path d="M47.5 154 L50.5 153.5 L51.5 162.5 L48.7 162.8Z" fill="#333"/>
<path d="M62 183 L70 181 L74 188 M66 186 L72 184.5" class="n" style="stroke:#1a1a1a;stroke-width:1"/>
<path d="M40 114.5 L42 118 M62 108 L60 116 M66 103.5 L72 108 M75 99 L73 106 M88 92.5 L91 99.5 M97 90.5 L98 97.5 M106 88.7 L107 96 M114 87.4 L114.5 94.6 M76 101 L88 100 M96 95 L110 92 M100 93 L118 90 M64 112 L76 106 M46 117 L58 113.5 M34 119 L44 117" class="n" style="stroke:#1a1a1a;stroke-width:0.9"/>
<path d="M100 88 L104 94 L112 92.5 L109 87 Z M86 95 L92 97 L90 92.5Z" fill="#444" stroke="#111" stroke-width="0.6"/>
<path d="M47 124.5 L53 123.5 L54 128 L48 129Z" fill="#333"/>
<path d="M30.4 117.2 L33.3 119.8 M32.0 119.0 L33.9 117.6 M32.8 117.0 L33.7 120.1 M35.0 116.4 L37.0 119.2 M36.6 118.4 L38.3 116.7 M36.4 114.9 L41.8 120.0 M38.9 114.2 L43.2 119.1 M41.6 117.6 L47.2 118.0 M43.5 114.2 L48.8 118.8 M46.3 111.7 L50.8 119.3 M49.1 115.7 L52.7 113.1 M50.2 110.8 L55.4 116.7 M54.1 109.8 L59.1 116.7 M56.6 113.7 L59.9 111.1 M57.8 109.0 L58.6 113.2 M60.1 106.0 L64.5 113.9 M62.6 110.2 L65.7 107.2 M63.7 105.3 L66.5 111.3 M67.1 104.1 L69.8 110.7 M68.5 106.6 L72.7 104.6 M69.8 100.9 L75.4 109.8 M72.8 97.7 L76.6 108.5 M75.2 102.6 L79.1 99.6 M77.2 97.3 L79.6 102.7 M79.3 91.8 L85.2 103.5 M82.1 98.5 L86.4 97.2 M84.5 93.9 L87.5 100.2 M88.0 91.9 L90.3 100.8 M89.2 96.1 L93.9 97.3 M92.3 92.8 L94.2 99.5 M95.8 87.9 L97.5 99.9 M96.4 94.6 L100.7 96.6 M100.1 90.7 L99.6 96.8 M104.1 89.2 L103.4 94.6 M103.7 93.0 L108.5 90.0 M108.6 86.0 L108.1 93.9 M112.9 85.3 L109.7 94.0 M111.0 91.3 L114.5 92.5 M117.2 84.3 L113.3 94.2 M120.0 87.0 L118.7 94.9 M119.1 89.6 L124.9 87.3 M124.8 84.5 L124.6 91.5 M128.6 85.7 L126.9 89.5 M128.4 87.7 L133.9 85.4 M132.9 82.6 L133.5 89.7" class="n" style="stroke:#1a1a1a;stroke-width:0.9"/>
<path d="M55.7 111.6 l2.6 -1 l1 2 l-2.6 1Z M69.1 105.4 l2.6 -1 l1 2 l-2.6 1Z M84.2 100.7 l2.6 -1 l1 2 l-2.6 1Z M95.1 94.9 l2.6 -1 l1 2 l-2.6 1Z M88.3 97.5 l2.6 -1 l1 2 l-2.6 1Z M38.6 119.4 l2.6 -1 l1 2 l-2.6 1Z M103.7 95.2 l2.6 -1 l1 2 l-2.6 1Z M105.8 91.9 l2.6 -1 l1 2 l-2.6 1Z M66.8 105.1 l2.6 -1 l1 2 l-2.6 1Z M88.9 93.3 l2.6 -1 l1 2 l-2.6 1Z" fill="#333"/>
<path d="M66.1 150.6 C66.6 153 67.6 160.8 69.1 165.2 C70.6 169.7 72.9 173.3 75 177.2 C77.1 181 80.7 186.5 81.8 188.4" class="n" style="stroke:#1a1a1a;stroke-width:1"/>
<path d="M63.9 151.1 C64.4 153.5 65.4 161.4 66.9 165.8 C68.4 170.2 70.7 173.8 72.8 177.7 C74.9 181.5 78.5 187 79.6 188.9" class="n" style="stroke:#1a1a1a;stroke-width:0.8"/>
<path d="M61.5 151.7 C62 154.1 63 162 64.5 166.4 C66 170.8 68.3 174.4 70.4 178.3 C72.5 182.1 76.1 187.6 77.2 189.5" class="n" style="stroke:#1a1a1a;stroke-width:1"/>
<path d="M58.9 152.3 C59.4 154.8 60.4 162.6 61.9 167 C63.4 171.5 65.7 175.1 67.8 178.9 C69.9 182.8 73.5 188.3 74.6 190.2" class="n" style="stroke:#1a1a1a;stroke-width:0.8"/>
<path d="M56.3 153 C56.8 155.4 57.8 163.3 59.3 167.7 C60.8 172.1 63.1 175.8 65.2 179.6 C67.3 183.4 70.9 188.9 72 190.8" class="n" style="stroke:#1a1a1a;stroke-width:1"/>
<path d="M44 134 L52 156 L53 168 M46 132 L55 154 L56 166 M50 131 L58.5 150 M41 133 L49 156 M58 136 L60 146 L57 152 M60 148 Q64 154 62 164 Q61 170 64 174 M55 160 L60 162 L64 158 M52 176 L58 174 L62 180 M56 184 L62 182 M47 134 L49 140 M48.5 144 L50.5 150" class="n" style="stroke:#1a1a1a;stroke-width:0.95"/>
<path d="M49.5 140 L51.6 146 L50 147 L48 141Z M52.5 150 L54.5 156 L53 157 L51 151Z M60 160 L63 159 L64 166 L61 167Z M66 172 L69 171 L71 177 L68 178Z" fill="#333"/>
</g>

<!-- f_400 -->
<g>
<path d="M491.6 154.7 L519 146.2 L545.4 136.8 L569.9 128.3 L596.3 121.7 L613.3 118.9 L632.2 118.9 L651 123.6 L659.6 125.7 L660.7 130.9 L669 135.1 L672.2 130.9 L687.9 139.3 L708.8 151.8 L729.7 165.4 L750.6 179 L768 191 L783.4 204.2 L792.2 217.4 L794.4 232.8 L787.8 246 L774.6 257 L763.6 268 L746 281.2 L724 296.6 L706.4 309.8 L693.2 314.7 L689.9 312 L697.6 304.3 L708.6 298.8 L764.7 260.3 L761.4 255.9 L743.8 235 L726.2 220.7 L702 204.2 L683.7 190.5 L671.1 183.2 L660.7 178 L641.8 168.6 L627.2 162.3 L612.6 159.2 L600 161.3 L590.7 164.2 L564.2 171.7 L522.7 187.7 L510.5 193.8 L502.9 184.9 L496.3 171.7Z" class="p" style="stroke:#111;stroke-width:1.1"/>
<path d="M708.6 298.8 C713.8 295.2 730.6 283.4 740 277 C749.4 270.6 757.8 265.5 764.7 260.3 C771.6 255.1 777 250.6 781.2 246 C785.4 241.4 788.9 237.6 790 232.8 C791.1 228 790 222.5 787.8 217.4 C785.6 212.3 781.6 206.8 776.8 202 C772 197.2 762.1 191 759.2 188.8" class="n" style="stroke:#111;stroke-width:1.5"/>
<path d="M672.2 133 C674.7 134.4 681 138 687 141.5 C693 145 701 149.7 708 154 C715 158.3 722 163.1 729 167.6 C736 172.1 743.8 177 750 181.2 C756.2 185.4 761 188.9 766 193 C771 197.1 777.7 203.8 780 206" class="n" style="stroke:#111;stroke-width:1.3"/>
<path d="M491.6 156.2 C496.2 154.8 510 150.8 519 147.8 C528 144.8 536.9 141.4 545.4 138.4 C553.9 135.4 561.4 132.5 569.9 130 C578.4 127.5 589.1 125 596.3 123.4 C603.5 121.8 607.3 121.1 613.3 120.6 C619.3 120.1 625.9 119.8 632.2 120.6 C638.5 121.4 647.9 124.4 651 125.2" class="n" style="stroke:#333;stroke-width:0.7"/>
<path d="M568 131.1 C568.3 132.9 569 138.7 570 142 C571 145.3 572.4 148.1 573.7 150.9 C575 153.7 576.4 156.5 578 159 C579.6 161.5 582.2 164.8 583.1 166" class="n" style="stroke:#444;stroke-width:0.7"/>
<path d="M613 119.5 C613.2 120.8 614.3 124.2 614 127 C613.7 129.8 612.2 132.8 611 136 C609.8 139.2 607.7 142.8 607 146 C606.3 149.2 606.2 152.8 607 155 C607.8 157.2 611.2 158.3 612 159" class="n" style="stroke:#555;stroke-width:0.6"/>
<rect x="627.5" y="134.6" width="42" height="25" rx="12" ry="12" class="p" style="stroke:#222;stroke-width:0.9" transform="rotate(22 648.5 147)"/>
<rect x="630.5" y="137" width="36" height="20" rx="10" ry="10" class="n" style="stroke:#222;stroke-width:0.9" transform="rotate(22 648.5 147)"/>
<path d="M651 123.6 C648.5 123.5 640.8 122.1 636 123 C631.2 123.9 626.2 126.2 622 129 C617.8 131.8 613.2 136.2 611 140 C608.8 143.8 608.7 148.8 609 152 C609.3 155.2 612.3 157.8 613 159" class="n" style="stroke:#555;stroke-width:0.6"/>
<path d="M609 147 L627 143.5 M611 156 L630 152 M660 162 L671 183 M672 150 L684 160 M640 162 L645 170" class="n" style="stroke:#555;stroke-width:0.6"/>
<path d="M600 158 C602.1 157.7 607.9 155.8 612.6 156 C617.3 156.2 622.9 157.8 628 159.5 C633.1 161.2 637.3 163.3 643 166 C648.7 168.7 655 171.8 662 175.5 C669 179.2 678.2 183.8 685 188 C691.8 192.2 696 196.1 703 201 C710 205.9 720 212.3 727 217.5 C734 222.7 739 226.1 745 232 C751 237.9 760 249.5 763 253" class="n" style="stroke:#444;stroke-width:0.7"/>
<path d="M683.0 155.5 L668.5 176.5 M688.5 158.8 L674.0 179.8 M694.0 162.0 L679.5 183.0 M699.5 165.2 L685.0 186.2 M705.0 168.4 L690.5 189.4 M676 166 L698 180 M672 172 L694 186 M668.5 177 L691 190.5" class="n" style="stroke:#222;stroke-width:0.85"/>
<path d="M746.0 193.6 L729.0 214.6 M751.5 197.4 L734.5 218.4 M757.0 201.2 L740.0 222.2 M762.5 205.0 L745.5 226.0 M768.0 208.8 L751.0 229.8 M739 203 L762 219 M735 209 L757 225 M731 214 L753 230" class="n" style="stroke:#222;stroke-width:0.85"/>
<path d="M700.1 192.5 L721.5 205.8" class="n" style="stroke:#555;stroke-width:0.7"/>
<path d="M676.6 150.6 C679.3 152.1 687.2 156.4 693 159.5 C698.8 162.6 705.6 165.8 711.3 169 C717 172.2 721.9 175.6 727 179 C732.1 182.4 735.8 185 742 189.5 C748.2 194 757.9 200.4 764.4 205.8 C770.9 211.2 778.1 219.5 780.8 222.2" class="n" style="stroke:#111;stroke-width:1.3"/>
<rect x="679.0" y="151.7" width="3.4" height="2.2" fill="#222" transform="rotate(32 680.7 152.8)"/>
<rect x="687.2" y="156.2" width="3.4" height="2.2" fill="#222" transform="rotate(32 688.9 157.3)"/>
<rect x="695.9" y="160.8" width="3.4" height="2.2" fill="#222" transform="rotate(32 697.6 161.9)"/>
<rect x="705.0" y="165.5" width="3.4" height="2.2" fill="#222" transform="rotate(32 706.7 166.6)"/>
<rect x="713.5" y="170.4" width="3.4" height="2.2" fill="#222" transform="rotate(32 715.2 171.5)"/>
<rect x="721.4" y="175.4" width="3.4" height="2.2" fill="#222" transform="rotate(32 723.1 176.5)"/>
<rect x="729.0" y="180.5" width="3.4" height="2.2" fill="#222" transform="rotate(32 730.8 181.6)"/>
<rect x="736.5" y="185.8" width="3.4" height="2.2" fill="#222" transform="rotate(32 738.2 186.9)"/>
<rect x="745.9" y="192.5" width="3.4" height="2.2" fill="#222" transform="rotate(32 747.6 193.6)"/>
<rect x="757.1" y="200.6" width="3.4" height="2.2" fill="#222" transform="rotate(32 758.8 201.7)"/>
<rect x="766.8" y="208.8" width="3.4" height="2.2" fill="#222" transform="rotate(32 768.5 209.9)"/>
<rect x="775.0" y="217.0" width="3.4" height="2.2" fill="#222" transform="rotate(32 776.7 218.1)"/>
<rect x="517.0" y="146.2" width="4" height="2" fill="#222"/>
<rect x="543.4" y="136.8" width="4" height="2" fill="#222"/>
<rect x="567.9" y="128.3" width="4" height="2" fill="#222"/>
<rect x="594.3" y="121.7" width="4" height="2" fill="#222"/>
<rect x="698.0" y="146.7" width="4" height="2" fill="#222"/>
<rect x="719.0" y="159.7" width="4" height="2" fill="#222"/>
<rect x="740.0" y="173.7" width="4" height="2" fill="#222"/>
<rect x="760.0" y="187.7" width="4" height="2" fill="#222"/>
<ellipse cx="500.0" cy="156.0" rx="2" ry="1.2" class="p" style="stroke:#333;stroke-width:0.7"/>
<ellipse cx="524.0" cy="188.0" rx="2" ry="1.2" class="p" style="stroke:#333;stroke-width:0.7"/>
<ellipse cx="564.0" cy="172.0" rx="2" ry="1.2" class="p" style="stroke:#333;stroke-width:0.7"/>
<ellipse cx="591.0" cy="164.0" rx="2" ry="1.2" class="p" style="stroke:#333;stroke-width:0.7"/>
<ellipse cx="617.0" cy="161.0" rx="2" ry="1.2" class="p" style="stroke:#333;stroke-width:0.7"/>
<ellipse cx="660.0" cy="178.0" rx="2" ry="1.2" class="p" style="stroke:#333;stroke-width:0.7"/>
<ellipse cx="726.0" cy="221.0" rx="2" ry="1.2" class="p" style="stroke:#333;stroke-width:0.7"/>
<ellipse cx="746.0" cy="281.0" rx="2" ry="1.2" class="p" style="stroke:#333;stroke-width:0.7"/>
<ellipse cx="724.0" cy="296.0" rx="2" ry="1.2" class="p" style="stroke:#333;stroke-width:0.7"/>
<ellipse cx="706.0" cy="309.0" rx="2" ry="1.2" class="p" style="stroke:#333;stroke-width:0.7"/>
<ellipse cx="780" cy="231.5" rx="9.5" ry="10.5" class="n" style="stroke:#333;stroke-width:0.8"/>
<path d="M770 206 C771 207.7 774.7 212.3 776 216 C777.3 219.7 778.7 223.3 778 228 C777.3 232.7 774.3 239 772 244 C769.7 249 765.3 255.7 764 258" class="n" style="stroke:#555;stroke-width:0.6"/>
<path d="M559.5 113 L561 111.5 L586 101.5 L589.5 101.2 L588.5 103.5 L563 114.5 L560 115Z" class="p" style="stroke:#333;stroke-width:0.9"/>
<path d="M566 110.5 L567 112.6 M569 109.3 L570 111.4 M572 108.1 L573 110.2 M575 106.9 L576 109 M578 105.7 L579 107.8 M581 104.5 L582 106.6 M563 112 L586 102.6" class="n" style="stroke:#333;stroke-width:0.7"/>
</g>

<!-- f_420 -->
<g>
<path d="M683.4 95.7 C684.1 94 694.8 79.3 697 76.9 C699.2 74.5 707.8 68.6 710.2 67 C712.6 65.4 723 59.2 725.7 58.2 C728.4 57.2 740.6 54.8 742.2 54.9 C743.9 55 745.3 58.1 745.5 59.3 C745.7 60.5 744.1 67.9 744.4 69.2 C744.7 70.5 747.2 74 748.8 74.7 C750.4 75.4 760.4 77.1 763.1 78 C765.8 78.9 777.6 84.7 780.7 85.7 C783.8 86.7 797.9 89.5 800.5 90.1 C803.1 90.7 808.7 92.2 811.4 93.4 C814.1 94.6 829.2 102.1 832.8 104.1 C836.4 106.1 850.6 115 854.2 117.5 C857.8 120 872.5 131 875.6 133.6 C878.7 136.2 889.9 146 891.7 148.3 C893.5 150.6 895.9 159.7 897 161.7 C898.1 163.7 903.4 171.6 905 172.4 C906.6 173.2 914.5 171 915.7 171 C916.9 171 919.7 171.4 919.7 172.4 C919.7 173.4 917.1 181.5 915.7 183.1 C914.3 184.7 905.5 189.5 902.4 191.1 C899.3 192.7 882 200.1 878.3 201.8 C874.6 203.5 860.2 210.4 858.2 211.1 C856.2 211.8 853.4 210.8 854.2 209.8 C855 208.8 864.7 200.9 867.6 199.1 C870.5 197.3 886.9 189.6 889 188.4 C891.1 187.2 893.5 185.5 893 184.4 C892.5 183.3 885.5 176.8 883.6 175 C881.7 173.2 872.5 164.8 870.3 163 C868.1 161.2 859.6 155.5 856.9 153.6 C854.2 151.7 841.5 142.6 838.2 140.3 C834.9 138 820.4 128 816.8 125.5 C813.2 123 799.5 113.2 795.4 110.8 C791.3 108.4 771.1 98.7 767.5 96.8 C763.9 94.9 754.3 89 752.1 87.9 C749.9 86.8 743.3 83.8 741.1 83.5 C738.9 83.2 728.8 84 725.7 84.6 C722.6 85.2 706.7 90.2 703.6 91.2 C700.5 92.2 689.9 96.4 688.2 96.8 C686.5 97.2 682.7 97.4 683.4 95.7Z" class="p" style="stroke:#111;stroke-width:1"/>
<path d="M697 86 L702 78 L714 69.5 L727 62.5 L740 59.5 L741 66 L737 74 L722 78.5 L706 84Z" class="n" style="stroke:#111;stroke-width:1"/>
<path d="M702 83 L706 77.5 L716 71.5 L728 66 L736 64.5 L735 70.5 L722 75 L709 80.5Z" class="n" style="stroke:#222;stroke-width:0.8"/>
<path d="M724 66.5 L730 65 L731 69 L725 70.5Z M706.5 76 L711 74 L712 77 L708 79Z" class="n" style="stroke:#222;stroke-width:0.8"/>
<ellipse cx="725.0" cy="82.0" rx="2.6" ry="1.6" fill="#555" stroke="#111" stroke-width="0.7"/>
<ellipse cx="753.0" cy="80.0" rx="2.6" ry="1.6" fill="#555" stroke="#111" stroke-width="0.7"/>
<ellipse cx="780.0" cy="92.0" rx="2.6" ry="1.6" fill="#555" stroke="#111" stroke-width="0.7"/>
<ellipse cx="886.3" cy="163.0" rx="2.6" ry="1.6" fill="#555" stroke="#111" stroke-width="0.7"/>
<ellipse cx="901.0" cy="177.7" rx="2.6" ry="1.6" fill="#555" stroke="#111" stroke-width="0.7"/>
<ellipse cx="887.6" cy="190.3" rx="2.6" ry="1.6" fill="#555" stroke="#111" stroke-width="0.7"/>
<path d="M819.4 100.1 L795.4 106.7 L797.4 111.2 L822.4 101.7" class="n" style="stroke:#222;stroke-width:0.8"/>
<rect x="793.9" y="107.2" width="3.6" height="5" class="p" style="stroke:#111;stroke-width:0.8"/>
<path d="M839.5 113.5 L816.8 120.0 L818.8 124.5 L842.5 115.1" class="n" style="stroke:#222;stroke-width:0.8"/>
<rect x="815.3" y="120.5" width="3.6" height="5" class="p" style="stroke:#111;stroke-width:0.8"/>
<path d="M859.6 126.9 L836.8 134.7 L838.8 139.2 L862.6 128.5" class="n" style="stroke:#222;stroke-width:0.8"/>
<rect x="835.3" y="135.2" width="3.6" height="5" class="p" style="stroke:#111;stroke-width:0.8"/>
<path d="M879.6 140.3 L856.9 148.1 L858.9 152.6 L882.6 141.9" class="n" style="stroke:#222;stroke-width:0.8"/>
<rect x="855.4" y="148.6" width="3.6" height="5" class="p" style="stroke:#111;stroke-width:0.8"/>
<path d="M748.8 74.7 C752.3 76.9 761.5 83.6 770 88 C778.5 92.4 790 96 800 101 C810 106 820 111.5 830 118 C840 124.5 851.7 133.3 860 140 C868.3 146.7 874.7 152 880 158 C885.3 164 890 173 892 176" class="n" style="stroke:#666;stroke-width:0.5"/>
<path d="M879.6 140.3 C880.3 142.2 882.3 147.7 884 152 C885.7 156.3 887.8 161.7 890 166 C892.2 170.3 895.8 176 897 178" class="n" style="stroke:#333;stroke-width:0.7"/>
<path d="M858.2 211.1 C861 209.2 869.2 203.5 875 200 C880.8 196.5 888 193.3 893 190 C898 186.7 903 181.7 905 180" class="n" style="stroke:#333;stroke-width:0.7"/>
<path d="M866 202 L884 194 L880 198.5 L870 203Z" fill="#555"/>
<path d="M736.7 110 C736.2 107.4 738.5 103.8 744.4 104.5 C750.3 105.2 762.2 109.6 771.9 114.4 C781.6 119.2 796.1 128.3 802.7 133.1 C809.3 137.8 806.4 139 811.4 142.9 C816.4 146.8 826.8 151.8 832.8 156.3 C838.8 160.8 844.8 166.6 847.5 169.7 C850.2 172.8 850.4 173.7 848.9 175 C847.4 176.3 841.8 177.9 838.2 177.7 C834.6 177.5 832.9 176.8 827.5 173.7 C822.1 170.6 812.2 163.2 806 159 C799.8 154.8 795.7 152.6 790 148.3 C784.3 144 778.9 137.8 771.9 133.1 C764.9 128.4 753.6 123.8 747.7 119.9 C741.8 116.1 737.2 112.6 736.7 110Z" class="p" style="stroke:#222;stroke-width:0.9"/>
<path d="M741 108.5 C745.8 110.2 760.2 114.1 770 119 C779.8 123.9 790.7 131.5 800 138 C809.3 144.5 819 152.3 826 158 C833 163.7 839.3 169.7 842 172" class="n" style="stroke:#666;stroke-width:0.5"/>
<path d="M771.0 114.5 L756.0 119.0 L759.0 123.0 L773.0 116.0" class="n" style="stroke:#222;stroke-width:0.8"/>
<path d="M802.0 133.5 L786.0 138.5 L789.0 142.5 L804.0 135.0" class="n" style="stroke:#222;stroke-width:0.8"/>
<path d="M832.0 156.5 L816.0 161.5 L819.0 165.5 L834.0 158.0" class="n" style="stroke:#222;stroke-width:0.8"/>
<path d="M838 170.5 L842 171.5 M829 168 L833 169.5" class="n" style="stroke:#222;stroke-width:0.8"/>
<path d="M816 72 C818.3 73 824 75 830 78.2 C836 81.4 844.7 86.8 852 91.4 C859.3 96 866.7 100.8 874 105.7 C881.3 110.7 889.2 116 896 121.1 C902.8 126.2 911.6 133.9 914.7 136.5" class="n" style="stroke:#111;stroke-width:2.2"/>
<path d="M815.2 74 C817.5 75 823.2 77 829.2 80.2 C835.2 83.4 843.9 88.8 851.2 93.4 C858.5 98 865.9 102.8 873.2 107.7 C880.5 112.7 888.4 118 895.2 123.1 C902 128.2 910.8 135.9 913.9 138.5" class="n" style="stroke:#555;stroke-width:0.6"/>
<path d="M826 77.5 l-1 3 M850 91.5 l-1 3 M872 106 l-1 3 M895 122 l-1 3 M908 133 l-1 3" class="n" style="stroke:#222;stroke-width:1"/>
<path d="M839.5 54 L857.8 49.2 Q859.2 52 858.4 55 L840.5 60.6Z" class="p" style="stroke:#555;stroke-width:0.9"/>
<path d="M845 52.8 L846.2 58.6 M848 52 L849.2 57.8 M851 51.2 L852.2 57 M854 50.4 L855.2 56.2" class="t"/>
<ellipse cx="836.8" cy="57.3" rx="3.2" ry="5.6" class="p" style="stroke:#444;stroke-width:0.9" transform="rotate(-14 836.8 57.3)"/>
<ellipse cx="836.2" cy="57.4" rx="1.6" ry="3.2" class="t" transform="rotate(-14 836.2 57.4)"/>
<rect x="901.6" y="36.6" width="8.6" height="9.6" fill="#7d9aba" transform="rotate(4 906 41.4)"/>
<rect x="903.6" y="38.8" width="4.8" height="4.6" fill="#a8bed3" transform="rotate(4 906 41.4)"/>
<path d="M697.5 135 L702.5 130.5 L716 133 L712.5 138.5 L706 139.5Z" class="p" style="stroke:#222;stroke-width:0.9"/>
<path d="M700.5 134.5 L704 132 L712 133.5 L709.5 136.5 L704 137Z M704 132 L706 139.5 M708 132.8 L709.5 136.5" class="n" style="stroke:#333;stroke-width:0.8"/>
<path d="M737 153 Q738 150.5 742 150.8 L746 151.5 Q748 153 747 157 Q746 160 743 160.6 L739 160.2 Q736.5 158 737 153Z" class="p" style="stroke:#222;stroke-width:0.9"/>
<path d="M737.5 153 L743 152.6 M737.5 155 L743 154.6 M737.5 157 L743 156.6 M738 159 L743 158.6 M743 151 L743.6 160.5 M745 152 Q746.5 155 745 159" class="n" style="stroke:#333;stroke-width:0.8"/>
<g transform="translate(0 2.5)">
<path d="M779 179.5 L794 177.8 L794.4 182.5 L779.6 184.6 Q778.4 182 779 179.5Z" class="p" style="stroke:#222;stroke-width:0.9"/>
<path d="M781 179.3 l0.6 5 M783 179 l0.6 5 M785 178.8 l0.6 5 M787 178.6 l0.6 5 M789 178.4 l0.6 5 M791 178.2 l0.6 5 M793 178 l0.6 5" class="n" style="stroke:#222;stroke-width:0.9"/>
<ellipse cx="796.2" cy="180" rx="2.2" ry="4" class="p" style="stroke:#222;stroke-width:0.9"/>
</g>
</g>

<!-- f_450 -->
<g>
<path d="M565.4 212.1 L575.8 207.4 L589 204.5 L589.9 197.9 L594.6 193.2 L601.2 197 L601.2 200.8 L613.5 205.5 L630.5 214.9 L649.3 227.2 L666.3 238.5 L681.4 250.8 L686.1 261.1 L685.2 270.6 L679.5 278.1 L668.2 282.8 L660.7 281.9 L657.8 288.5 L648.4 286.6 L647.5 278.1 L634.2 272.5 L617.3 270.6 L602.2 261.1 L589 251.7 L581.4 242.3 L573.9 232.8 L562.5 230.9 L566.3 223.4Z" class="p" style="stroke:#111;stroke-width:1.05"/>
<path d="M594.6 201.1 C597.5 202.4 605.6 205.7 611.6 208.7 C617.6 211.7 624.2 215.4 630.5 219.1 C636.8 222.7 643.1 226.4 649.3 230.4 C655.6 234.3 662.2 238.4 668.2 242.6 C674.2 246.9 682.4 253.6 685.2 255.8" class="n" style="stroke:#111;stroke-width:1.4"/>
<path d="M592.7 205.5 C595.7 206.6 604.5 209.5 610.7 212.5 C616.8 215.4 623.2 219.4 629.5 223 C635.8 226.7 642.1 230.4 648.4 234.3 C654.7 238.2 661.4 242.3 667.3 246.4 C673.1 250.6 680.6 257.1 683.3 259.2" class="n" style="stroke:#151515;stroke-width:0.95"/>
<path d="M595 200.4 L594.6 193.6 L601.2 197.4 L601.2 203.6" class="n" style="stroke:#151515;stroke-width:0.95"/>
<path d="M613.5 208.3 L613.9 204.2 L620.1 207.9 L619.7 212.5" class="n" style="stroke:#151515;stroke-width:0.95"/>
<path d="M631.4 218.7 L631.8 214 L637.1 218.3 L636.7 223" class="n" style="stroke:#151515;stroke-width:0.95"/>
<path d="M648.4 229.4 L648.8 225.8 L653.5 230.6 L653.1 234.3" class="n" style="stroke:#151515;stroke-width:0.95"/>
<path d="M664.4 240 L664.8 237.2 L668.6 241.9 L668.2 244.5" class="n" style="stroke:#151515;stroke-width:0.95"/>
<path d="M679.5 252.1 L679.9 249.4 L683.7 254.2 L683.3 257" class="n" style="stroke:#151515;stroke-width:0.95"/>
<path d="M575.8 207.4 L577.6 217.7 L573.9 227.2M589 204.5 L589.9 213 L577.6 217.7M566.3 223.4 L573.9 220.6 L577.6 217.7M589.9 213 L602.2 217.7 L600.3 226.2 L577.6 220.6" class="n" style="stroke:#151515;stroke-width:0.95"/>
<path d="M583.3 212.1 L592.7 211.1 L595.6 218.7 L586.1 220.6Z" class="p" style="stroke:#151515;stroke-width:0.95"/>
<ellipse cx="588.0" cy="215.8" rx="3.6" ry="4" class="n" style="stroke:#151515;stroke-width:0.95"/>
<path d="M606.9 214 L612.5 217.4 L611.8 220.8 L606.1 217.4Z M615.6 219.8 L621.2 223.2 L620.5 226.6 L614.8 223.2Z M624.2 225.7 L629.9 229.1 L629.2 232.5 L623.5 229.1Z M632.9 231.5 L638.6 234.9 L637.8 238.3 L632.2 234.9Z M641.6 237.4 L647.3 240.8 L646.5 244.2 L640.8 240.8Z M650.3 243.2 L655.9 246.6 L655.2 250 L649.5 246.6Z M659 249.1 L664.6 252.5 L663.9 255.8 L658.2 252.5Z M667.6 254.9 L673.3 258.3 L672.5 261.7 L666.9 258.3Z" class="n" style="stroke:#151515;stroke-width:0.95"/>
<path d="M599.3 227.2 L604.6 230.2 L604.1 232.8 L598.8 229.8Z M607.8 232.6 L613.1 235.7 L612.5 238.3 L607.3 235.3Z M616.3 238.1 L621.6 241.1 L621 243.8 L615.8 240.8Z M624.8 243.6 L630.1 246.6 L629.5 249.2 L624.2 246.2Z M633.3 249.1 L638.6 252.1 L638 254.7 L632.7 251.7Z M641.8 254.5 L647.1 257.5 L646.5 260.2 L641.2 257.2Z M650.3 260 L655.6 263 L655 265.7 L649.7 262.6Z M658.8 265.5 L664.1 268.5 L663.5 271.1 L658.2 268.1Z" class="n" style="stroke:#151515;stroke-width:0.95"/>
<path d="M600.3 224.3 C603.1 225.8 611.3 229.5 617.3 232.8 C623.2 236.1 629.8 240.2 636.1 244.2 C642.4 248.1 649.7 253 655 256.4 C660.3 259.9 666 263.5 668.2 264.9" class="n" style="stroke:#151515;stroke-width:0.95"/>
<path d="M577.6 220.6 C580.2 222 587.1 225.6 592.7 229.1 C598.4 232.5 605.3 237.2 611.6 241.3 C617.9 245.4 624.2 249.5 630.5 253.6 C636.8 257.7 644.3 262.7 649.3 265.8 C654.4 269 658.8 271.4 660.7 272.5" class="n" style="stroke:#111;stroke-width:1.2"/>
<path d="M573.9 228.1 C576.4 229.7 583.3 233.9 589 237.5 C594.6 241.2 601.5 245.7 607.8 249.8 C614.1 253.9 620.7 258.5 626.7 262.1 C632.7 265.7 640.8 269.9 643.7 271.5" class="n" style="stroke:#151515;stroke-width:0.95"/>
<path d="M583.3 232.5 L581.8 238.5 M585.6 234 L584.2 239.2 M590.1 236.9 L588.6 242.9 M592.4 238.4 L591 243.7 M596.9 241.3 L595.4 247.4 M599.2 242.8 L597.8 248.1 M603.7 245.8 L602.2 251.8 M605.9 247.3 L604.6 252.5 M610.5 250.2 L609 256.2 M612.7 251.7 L611.4 257 M617.3 254.6 L615.8 260.7 M619.5 256.1 L618.2 261.4 M624.1 259.1 L622.5 265.1 M626.3 260.6 L625 265.8 M630.8 263.5 L629.3 269.5 M633.1 265 L631.8 270.3 M637.6 267.9 L636.1 274 M639.9 269.4 L638.6 274.7 M644.4 272.4 L642.9 278.4 M646.7 273.9 L645.4 279.2" class="n" style="stroke:#151515;stroke-width:0.95"/>
<path d="M588 242.3 L592.2 244.7 L591.4 246.8 L587.3 244.3Z M601.2 250.8 L605.4 253.2 L604.6 255.3 L600.5 252.8Z M614.4 259.2 L618.6 261.7 L617.8 263.8 L613.7 261.3Z M627.6 267.7 L631.8 270.2 L631 272.3 L626.9 269.8Z M640.8 276.2 L645 278.7 L644.2 280.8 L640.1 278.3Z" fill="#3a3a3a"/>
<path d="M651.2 264.9 L660.7 263 L668.2 268.7 L685.2 263M668.2 268.7 L668.2 282.8M651.2 264.9 L653.1 272.5 L660.7 281.9M660.7 263 L661.6 270.6 L668.2 274.3M648.4 278.1 L657.8 280.9M672 270.6 L681.4 267.2 L681 274.3 L672.4 278.1Z" class="n" style="stroke:#151515;stroke-width:0.95"/>
<path d="M678 207.6 Q681.5 205.8 685.4 207.8 L683.2 210 L680 210Z" fill="#222" stroke="#111" stroke-width="0.6"/>
<path d="M681.3 210 L682.8 223.6" class="n" style="stroke:#111;stroke-width:2.3"/>
<path d="M680 212.5 L684 212 M680.2 215 L684.2 214.5 M680.5 217.5 L684.5 217 M680.8 220 L684.8 219.5" class="n" style="stroke:#fff;stroke-width:0.5"/>
</g>

<!-- f_550 -->
<g>
<defs><pattern id="hex" width="3.15" height="8.40" patternUnits="userSpaceOnUse" patternTransform="matrix(1 0.63 0.016 1 875.5 42.9)">
<path d="M1.57 0 L1.57 1.50 L3.15 2.70 L3.15 5.70 L1.57 6.90 L0 5.70 L0 2.70 L1.57 1.50 M1.57 6.90 L1.57 8.40" fill="none" stroke="#161616" stroke-width="1.1"/></pattern></defs>
<path d="M875.5 42.9 L935.3 80.6 L934.5 129.4 L876.3 91.6Z" fill="#fff"/>
<path d="M875.5 42.9 L935.3 80.6 L934.5 129.4 L876.3 91.6Z" fill="url(#hex)" stroke="#222" stroke-width="1.8" stroke-linejoin="round"/>
<path d="M878 47.4 L933 82 L932.4 125.6 L878.6 90.4Z" fill="none" stroke="#333" stroke-width="0.7"/>
<path d="M899 100 L909 106.5 L908 109.5 L898 103Z" fill="#2a2a2a"/>
<path d="M900 102 L907 106.4" stroke="#eee" stroke-width="0.7" fill="none"/>
</g>

<!-- g_right -->
<g>
<path d="M714.6 236 L714.6 230 Q716 226.8 717.6 230 L717.6 236Z" class="p" style="stroke:#333;stroke-width:0.9"/>
<ellipse cx="716.1" cy="237.8" rx="5.8" ry="2.4" class="p" style="stroke:#333;stroke-width:0.9"/>
<path d="M711 239.5 Q716 243.5 721 239.5 M714.5 241.3 L714.8 243 L717.4 243 L717.6 241.3" class="n" style="stroke:#444;stroke-width:0.8"/>
<ellipse cx="761.6" cy="285.6" rx="4.2" ry="2.3" class="p" style="stroke:#222;stroke-width:0.9" transform="rotate(-15 761.6 285.6)"/>
<path d="M760.5 287.5 L764 286.5 L768 297.5 L766.8 298.2Z" class="p" style="stroke:#222;stroke-width:0.9"/>
<path d="M761.5 290 L765.5 289 M762.6 292.4 L766.4 291.4 M763.8 294.8 L767.2 293.8" class="n" style="stroke:#222;stroke-width:0.8"/>
<path d="M808.2 298 L818.6 288.9 L832.9 294.1 L832 298 L822.5 307 L808.6 301.5Z" class="p" style="stroke:#111;stroke-width:1.15"/>
<path d="M808.2 298 L822 303 L832.9 294.1 M822 303 L822.5 307 M812 294.6 L825.6 299.6 M815 292 L828.8 297 M820 290 L819.4 292 M824 291.4 L823.4 293.4 M828 293 L827.4 295" class="n" style="stroke:#111;stroke-width:0.9"/>
<path d="M811 297.5 L822 301.5 L826 298.2 L815 294.4Z" fill="#444"/>
<path d="M826 303.5 L829 301 L830.4 302 L827.4 304.6Z" fill="#222"/>
<path d="M853 293 L856 289.4 L862.6 290.6 L863.4 294.6 L859.6 298 L854.4 297.4Z" fill="#444" stroke="#111" stroke-width="0.9"/>
<path d="M856 292 L860 292.6 L860.2 295 L856.4 294.6Z" fill="#ddd"/>
<path d="M853.4 296 L852 299 M858.6 289.4 L859 287.4 L861 287.6 L861 290" class="n" style="stroke:#111;stroke-width:0.9"/>
<path d="M853.4 272.6 L859 274.4 L946 334 L951.4 338.6 M854.2 274.6 L858.4 276 L945 335.6 L950.6 340" class="n" style="stroke:#333;stroke-width:0.7"/>
<path d="M853.4 272.6 L846 278.4 L838.4 280.8 Q835.6 282 836.4 284 Q837.6 285.4 840 284 L846.6 280.6 L854.2 274.6" class="n" style="stroke:#333;stroke-width:0.8"/>
<path d="M949 336.6 L952.6 339.6 L951.4 341 L948 338Z" class="p" style="stroke:#333;stroke-width:0.7"/>
<path d="M802.6 208.6 L813.4 208.3" class="n" style="stroke:#555;stroke-width:0.7"/>
<path d="M813.4 206.6 L815 206.6 L815 207.4 L820 207.2 Q821.2 208.4 820 209.6 L815 209.4 L815 210.2 L813.4 210.2Z" class="p" style="stroke:#444;stroke-width:0.7"/>
<path d="M832.7 423.7 L833.4 415.1 L835.4 411 L842 409 L858.7 404.8 L859.4 397.7 L861.4 394.3 L866.7 394.6 L867.8 397 L868.1 403.7 L873.4 406.4 L877.4 411 L880.8 415.1 L884.8 417.1 L885.7 425.1 L885.4 431.7 L883.4 435.1 L877.4 437.1 L878.8 443.8 L878.1 451.8 L874.8 453.8 L873.4 458.2 L871.4 462.5 L865.4 461.8 L864.7 459.8 L867.4 457.8 L868.1 451.8 L865.4 450.4 L862.7 445.8 L860.1 438.4 L858.1 433.7 L854.7 430.4 L850.1 425.1 L845.4 421.7 L841.4 423.1 L838 425.1 L837.4 428.4 L833.4 427.7Z" class="p" style="stroke:#111;stroke-width:1.15"/>
<path d="M842 411.7 L858.7 407 L860.1 411 L844 416.4ZM844 416.4 L860.1 411 L865.4 413.7 L850.1 419.7ZM850.1 419.7 L865.4 413.7 L873.4 416.4 L876.1 425.1 L864.1 427.7 L858.1 425.1ZM835.4 411 L840 413.7 L840 421.1 L837.4 425.1M840 413.7 L842 411.7M840 421.1 L845.4 419.7 L850.1 419.7M868.1 403.7 L867.4 409.7 L873.4 416.4M867.4 409.7 L860.1 411M873.4 406.4 L872.8 411.7 L879.4 416.4M876.1 425.1 L880.1 427.7 L883.4 435.1M864.1 427.7 L866.7 433.1 L877.4 437.1M860.1 435.8 L866.7 433.1 L876.1 431.7M864.1 438.4 L866.1 449.8M870.8 436.4 L872.8 452.4M860.1 438.4 L868.1 437.8 L870.8 436.4M867.4 457.8 L873.4 458.2M865.4 450.4 L868.1 447.8 L872.8 449.1M858.1 433.7 L864.1 427.7" class="n" style="stroke:#111;stroke-width:0.95"/>
<path d="M860.1 396.4 L866.7 396.4 L867.4 407.7 L860.7 408.4Z" class="p" style="stroke:#111;stroke-width:0.95"/>
<path d="M861.1 397.7 L864.1 397.7 L864.3 407.4 L861.4 407.7ZM879.4 416.4 L884.1 417.7 L884.8 429.1 L880.1 427.7ZM866.7 445.1 L869.7 444.4 L870.1 448.8 L867.4 449.4Z" fill="#555" stroke="#111" stroke-width="0.8"/>
<path d="M769.6 438.6 C770.2 436.8 778.9 435.6 782.2 434.7 C785.5 433.7 800 429.2 802.6 428.8 C805.3 428.5 808.1 430.4 808.9 431.5 C809.8 432.6 811.1 438.7 811.3 440.2 C811.5 441.7 811.5 445.6 810.5 446.5 C809.5 447.3 803 448.2 801.1 448.8 C799.2 449.5 793.2 452.2 791.6 452.8 C790.1 453.3 786.3 453.9 785.3 454.3 C784.4 454.8 783.1 457.6 782.2 457.5 C781.2 457.3 777.2 454.6 775.9 452.8 C774.6 450.9 769 440.4 769.6 438.6Z" class="p" style="stroke:#111;stroke-width:1.15"/>
<path d="M786.9 455.9 C787.9 454.5 790.1 453.5 791.6 452.8 C793.2 452 800.3 449.5 802.6 448.8 C805 448.1 813.4 445.7 815.2 445.7 C817 445.7 819.9 447.5 820.7 448.8 C821.5 450.2 822.9 457.1 823.1 459 C823.2 461 822.9 466.8 822.3 468.5 C821.7 470.1 818.6 474.5 816.8 475.6 C815 476.6 806.1 478.6 804.2 478.7 C802.3 478.9 799.7 477.5 797.9 477.1 C796.2 476.8 788.5 476.6 786.9 475.6 C785.3 474.5 782.2 468.9 782.2 466.9 C782.2 464.9 786 457.3 786.9 455.9Z" class="p" style="stroke:#111;stroke-width:1.15"/>
<path d="M758.6 446.5 C758.4 442.5 767.9 439.6 769.6 438.6 C771.3 437.6 774.6 436.1 775.9 436.2 C777.2 436.4 781.2 438.7 782.2 440.2 C783.1 441.7 784.6 449.6 785.3 451.2 C786.1 452.8 789.3 454.3 790.1 455.9 C790.8 457.5 793.2 464.9 793.2 466.9 C793.2 468.9 791.9 474.6 790.1 475.6 C788.2 476.5 776.1 476.1 774.3 476.3 C772.5 476.6 773.5 480.9 772 477.9 C770.4 474.9 758.8 450.4 758.6 446.5Z" class="p" style="stroke:#111;stroke-width:1.15"/>
<path d="M742.9 456.7 C742.8 454.4 743.9 451.5 745.2 450.4 C746.5 449.3 752.3 447.7 753.9 447.2 C755.4 446.8 756.9 446.1 758.6 446.5 C760.3 446.8 767.2 448.7 768.8 450.4 C770.5 452 772.2 458.3 772.8 460.6 C773.3 462.9 773.6 468 773.5 470.1 C773.4 472.1 773.2 476.3 772 477.9 C770.8 479.6 764.9 483.6 763.3 484.2 C761.8 484.9 760 484.1 758.6 483.4 C757.2 482.8 753 480.3 751.5 478.7 C750 477.1 747 472.6 746 470.1 C745 467.5 743 459 742.9 456.7Z" class="p" style="stroke:#111;stroke-width:1.2"/>
<path d="M745.7 457.5 C745.6 455.5 746.5 453.3 747.6 452.4 C748.6 451.6 753.4 450.3 754.7 449.9 C755.9 449.6 757.2 449 758.6 449.3 C760 449.6 765.1 451.3 766.5 452.8 C767.8 454.2 769.4 459.4 769.9 461.4 C770.4 463.4 770.6 468.4 770.6 470.1 C770.5 471.8 770.2 474.8 769.3 476 C768.4 477.3 764.2 480.6 763 481.1 C761.8 481.6 760.1 481 758.9 480.4 C757.8 479.9 754.3 478 753.1 476.7 C751.9 475.4 749.2 471.5 748.4 469.3 C747.5 467 745.8 459.4 745.7 457.5Z" class="n" style="stroke:#111;stroke-width:0.95"/>
<ellipse cx="758.6" cy="465.7" rx="9.4" ry="13.4" class="n" style="stroke:#111;stroke-width:0.95" transform="rotate(-12 758.6 465.7)"/>
<ellipse cx="758.9" cy="466.0" rx="7.4" ry="11" class="n" style="stroke:#555;stroke-width:0.6" transform="rotate(-12 758.9 466.0)"/>
<path d="M761.7 466.9 L768.8 463.8 L768.8 474Z" class="n" style="stroke:#666;stroke-width:0.6"/>
<path d="M745.2 450.4 L752.3 447.2 L755.4 448.8 L748.4 452.8Z" class="p" style="stroke:#111;stroke-width:0.95"/>
<path d="M769.6 438.6 C770.7 438.2 773.8 436 775.9 436.2 C778 436.5 780.6 437.7 782.2 440.2 C783.8 442.7 785.3 448.3 785.3 451.2 C785.3 454.1 782.7 456.4 782.2 457.5" class="n" style="stroke:#111;stroke-width:0.95"/>
<path d="M772.8 441 C773.7 440.8 776.7 439.3 778.3 440.2 C779.8 441.1 781.5 444.2 782.2 446.5 C782.8 448.7 782.2 452.4 782.2 453.5" class="n" style="stroke:#111;stroke-width:0.95"/>
<path d="M803.9 429.5 C804.5 429.9 806.6 430.7 807.7 432 C808.7 433.2 809.8 436.2 810.2 437" class="n" style="stroke:#111;stroke-width:2"/>
<path d="M816 446.1 C816.7 446.5 819 447.2 819.9 448.3 C820.9 449.5 821.5 452 821.8 452.8" class="n" style="stroke:#111;stroke-width:2"/>
<path d="M799.5 430.7 C800.3 431.4 803.1 432.8 804.2 434.7 C805.3 436.5 805.9 439.6 806.1 441.7 C806.3 443.9 805.6 446.7 805.5 447.7" class="n" style="stroke:#555;stroke-width:0.6"/>
<path d="M812.1 447.2 C812.9 448 815.8 449.5 816.8 452 C817.8 454.5 818.4 458.9 818.4 462.2 C818.4 465.5 817.6 469.3 816.8 471.6 C816 473.9 814.2 475.3 813.7 476" class="n" style="stroke:#555;stroke-width:0.6"/>
<path d="M791.6 453.5 C792.3 454.5 794.6 456.6 795.6 459 C796.5 461.5 797.1 465.6 797.1 468.5 C797.1 471.4 795.8 475 795.6 476.3" class="n" style="stroke:#111;stroke-width:1.3"/>
<path d="M794 452.8 C794.7 453.8 797.3 456.4 798.2 459 C799.2 461.7 799.8 465.5 799.8 468.5 C799.8 471.4 798.5 475.3 798.2 476.7" class="n" style="stroke:#111;stroke-width:0.95"/>
<path d="M774.3 476.3 L775.1 472.9 L786.9 471.6 L796.3 473.5M772.8 462.2 L790.1 459.8M770.4 452.8 L782.2 448.8 L788.5 452.8" class="n" style="stroke:#111;stroke-width:0.95"/>
<path d="M804.2 458.3 L808.9 456.2 L812.1 462.2 L811.8 470.1 L808.9 475.6 L804.2 476.7 L802.6 470.1 L805.8 466.9 L805.8 462.2Z" class="p" style="stroke:#111;stroke-width:0.95"/>
<path d="M802.6 463.8 L805.5 463 L805.8 471.6 L803 472.4ZM807.7 462.2 L810.2 461.6 L810.5 468.5 L808.1 469.3Z" fill="#333"/>
<path d="M786.9 432.6 L787.7 426 L791.6 425.2 L792.9 426.8 L790.4 431.7M788.5 427.3 L791.9 426.6" class="n" style="stroke:#111;stroke-width:0.95"/>
<path d="M851.6 471.4 L855.4 471.4 L855.6 477 L854.4 478.4 L852.8 478.4 L851.6 477Z" class="p" style="stroke:#333;stroke-width:0.8"/>
<path d="M853.5 478.4 L853.6 490.6" class="n" style="stroke:#333;stroke-width:0.9"/>
<path d="M798.1 505.8 L807.9 499.6 L819 505.8 L809.2 511.9Z" class="p" style="stroke:#111;stroke-width:1.15"/>
<path d="M801 505.8 L808 501.6 L816 505.8 L809 510Z" class="n" style="stroke:#1a1a1a;stroke-width:0.9"/>
<ellipse cx="808.6" cy="505.4" rx="2.8" ry="2" class="n" style="stroke:#111;stroke-width:0.9"/>
<path d="M806 503.4 L807.6 501 L810.4 501.4 L811.6 503.6" class="n" style="stroke:#1a1a1a;stroke-width:0.9"/>
<path d="M823.4 519.3 L829.3 516.8 L832.5 507 L839.8 504.5 L846 507 L853.3 502.1 L865.6 495.9 L875.4 492.3 L881.5 494.7 L872.9 500.9 L863.1 509.4 L848.4 516.8 L843.5 510.7 L838.6 516.8 L833.7 521.7 L826.3 524.2Z" class="p" style="stroke:#111;stroke-width:1.15"/>
<path d="M846 507 L848 512 L860 505 L872 497.4 L878 494.6 M853.3 502.1 L855 506 M832.5 507 L835 510 L833.7 521.7 M835 510 L843.5 510.7 M829.3 516.8 L830.6 520.6 M839.8 504.5 L840.6 508" class="n" style="stroke:#1a1a1a;stroke-width:0.9"/>
<path d="M879.2 509.4 L879.5 521" class="n" style="stroke:#111;stroke-width:2.4;stroke-linecap:butt"/>
<ellipse cx="879.6" cy="523.6" rx="5.3" ry="2.6" class="p" style="stroke:#111;stroke-width:0.9"/>
<ellipse cx="879.6" cy="522.4" rx="3.2" ry="1.4" fill="#333"/>
<path d="M811.1 574.5 L821.4 567.1 L838.6 558.5 L846 554.8 L852.1 556.1 L849.6 564.6 L847.2 578.1 L849.6 587.9 L854.6 586.7 L858.2 597.8 L857 601 L876.6 598.3 L872.9 605.1 L863.1 608.8 L849.6 607.6 L838.6 597.8 L828.8 591.6 L817.7 585.5 L814.1 579.4Z" class="p" style="stroke:#111;stroke-width:1.15"/>
<path d="M814 575.5 L823 570 L839 561.5 L846 558 L849 559.5 M821.4 567.1 Q824 580 838 594 M825 569 Q828 581 841 594.5 M846 558 Q842 570 843 582 L849.6 587.9 M843 582 L838 590 L849.6 607.6 M849.6 587.9 L851 598 L857 601 M851 598 L849.6 607.6 M858.2 597.8 L862 603 L872.9 605.1 M817.7 585.5 L820 580 L814.1 579.4 M836 560 L838 562.5 L843 560 L841 557.6" class="n" style="stroke:#1a1a1a;stroke-width:0.9"/>
<path d="M891.3 564.6 C892.2 563.4 900.1 557.6 902.4 556.1 C904.7 554.6 912.8 551.5 914.7 549.9 C916.6 548.2 919.6 540.6 921 539.6 C922.4 538.6 926.6 538.5 928.6 539.4 C930.6 540.3 938.5 546.1 940.5 548.5 C942.5 550.9 947.7 560.4 948.6 563.4 C949.5 566.4 950 575.1 949.6 578.1 C949.2 581.1 946.2 591.6 945 593.5 C943.8 595.4 938.8 597.9 937.5 597.5 C936.2 597.1 933.3 590.2 931.8 589.5 C930.2 588.8 923.7 591 922 590.4 C920.3 589.8 916.7 584.4 914.7 583 C912.7 581.6 904.2 577.8 902.4 576.9 C900.6 576 897.2 575.4 896.3 574.5 C895.4 573.6 894.3 569.3 893.8 568.3 C893.3 567.3 890.4 565.8 891.3 564.6Z" class="p" style="stroke:#111;stroke-width:1.15"/>
<path d="M918.8 553.6 C919.1 551.2 920.9 546.3 922 545 C923.1 543.7 926.6 542.1 928.2 542.6 C929.7 543 934.2 546.8 935.5 548.7 C936.9 550.6 939.5 556.6 939.7 558.5 C939.8 560.4 937.6 563.7 936.7 564.6 C935.9 565.6 932.2 566.5 932.3 566.4 C932.5 566.2 936.6 563.5 938 563.4 C939.3 563.4 943.1 564.4 944.1 565.9 C945.1 567.3 946.6 573.2 946.6 575.7 C946.6 578.1 945 584.8 944.1 586.7 C943.2 588.7 940.2 592.1 939.2 592.4 C938.2 592.7 936.7 589.8 935.5 589.2 C934.4 588.5 930.8 588 929.4 586.7 C927.9 585.4 924.3 580.6 923.2 578.1 C922.2 575.7 920.6 568.7 920.1 565.9 C919.5 563 918.6 556 918.8 553.6Z" class="n" style="stroke:#111;stroke-width:1.1"/>
<path d="M921 554.1 C921.2 551.9 922.7 548.3 923.5 547.2 C924.3 546.2 926.9 544.9 928.2 545.3 C929.4 545.6 932.7 548.6 933.8 550.2 C934.9 551.7 937.1 557 937.2 558.5 C937.4 560 936 562.2 935.3 562.9 C934.5 563.7 931.2 564.3 930.8 564.9 C930.5 565.5 931.5 568.2 932.3 568.3 C933.2 568.4 936.8 565.9 938 565.9 C939.2 565.9 941.9 567.1 942.6 568.3 C943.4 569.5 944.4 574.2 944.3 576.2 C944.3 578.2 943 583.9 942.4 585.5 C941.7 587.1 939.5 589.5 938.7 589.7 C937.9 589.8 936.7 587.6 935.8 587 C934.8 586.4 931.6 585.7 930.4 584.5 C929.1 583.4 925.9 579.3 925 577.2 C924 575 922.5 568.6 922 565.9 C921.6 563.2 920.9 556.3 921 554.1Z" class="n" style="stroke:#444;stroke-width:0.7"/>
<path d="M894 565.5 L903.6 558.6 L914.7 553 L920.8 553.6 M902.4 556.1 Q904 566 914.7 583 M905.6 557.4 Q907.6 567 918 582 M920.8 553.6 Q917 562 918 572 L922 576 L931.8 587.9 M918 572 L914 578 M922 576 L926 570 L931.8 564.6 M926 570 L928 581 L922 590.4 M896.3 574.5 L898 570 L893.8 568.3" class="n" style="stroke:#1a1a1a;stroke-width:0.9"/>
</g>

<!-- h_mid -->
<g>
<path d="M315 284.6 Q319.5 282.4 324.6 284 L324 287 L321.4 288 L321.6 296 L319.6 300.4 L317.8 296 L317.6 288.2 L315.4 287.4Z" class="p" style="stroke:#222;stroke-width:0.9"/>
<path d="M315.4 286 L324.4 285.6 M317.8 290.6 L321.4 290 M317.8 293 L321.4 292.4 M318 295.4 L321.4 294.8" class="n" style="stroke:#1a1a1a;stroke-width:0.9"/>
<ellipse cx="346.6" cy="317" rx="4.4" ry="6.4" class="p" style="stroke:#222;stroke-width:1" transform="rotate(-12 346.6 317)"/>
<ellipse cx="345.2" cy="318" rx="2.3" ry="3.3" class="n" style="stroke:#222;stroke-width:1"/>
<path d="M343.4 315.6 L347.6 314.6 M343.2 320.6 L348 319.6 M349 312.6 Q351.4 317 349.4 322" class="n" style="stroke:#1a1a1a;stroke-width:0.9"/>
<path d="M370.4 347.2 C370.8 346.2 374 345.7 376.1 346.6 C378.2 347.5 383.8 351.5 386.3 353.8 C388.8 356.1 393.1 361.4 394.5 364 C395.9 366.6 397 372.4 396.5 373.2 C396 374 392.6 371.6 390.4 370.1 C388.2 368.6 382.5 364.2 380.2 362 C377.9 359.8 374.3 355.8 373 353.8 C371.7 351.8 370 348.2 370.4 347.2Z" fill="#4a4a4a" stroke="#222" stroke-width="0.8"/>
<path d="M372 348.5 L394 369 M374 347.4 L395.4 367 M371.6 350.4 L391 369 M376 350 l-2 2 M379 352.6 l-2 2.4 M382 355.4 l-2.2 2.6 M385 358.4 l-2.2 2.6 M388 361.6 l-2.2 2.6 M391 365 l-2 2.6" fill="none" stroke="#bbb" stroke-width="0.5"/>
<path d="M396.9 337.8 C397.2 336.8 400.5 336.3 402.6 337.4 C404.7 338.5 412.5 345.2 414.9 347.6 C417.3 350 422 355.6 423.1 357.9 C424.2 360.2 425.4 366.6 424.7 367.1 C424 367.6 419 363.7 416.9 362 C414.8 360.3 408.7 354.7 406.7 352.8 C404.7 350.9 400.7 347.4 399.6 345.6 C398.5 343.9 396.5 338.8 396.9 337.8Z" class="p" style="stroke:#111;stroke-width:1.15"/>
<path d="M399.4 339.6 C400 339.7 400.6 338.4 403 340 C405.4 341.6 410.7 346.1 413.6 349 C416.5 351.9 419.2 355.2 420.6 357.6 C422 360 421.8 362.4 422 363.4" class="n" style="stroke:#1a1a1a;stroke-width:0.9"/>
<path d="M402 346 L408 342.6 M410 355 L416 352 L418 355.6 M404 342 l1.6 2 M413.6 353 l1.4 1.6" class="n" style="stroke:#1a1a1a;stroke-width:0.9"/>
<path d="M476 359.8 L478.4 359 Q496 372 505 388 Q512 402 515 416.6 L511.4 416.2 Q509 404 503 393 Q494 376 476 362.6Z" class="p" style="stroke:#111;stroke-width:1.15"/>
<path d="M461.2 369.7 L475.4 364.1 L498 381 L495.2 389.5 L478.2 393.8 L464.1 376.8Z" class="p" style="stroke:#111;stroke-width:1.15"/>
<path d="M464.1 376.8 L478 371.4 L495.2 389.5 M478 371.4 L475.4 364.1 M482 373 L482.6 377 L490 376 M470 381 l1.6 1.6 M484.6 388 L486.2 391.4" class="n" style="stroke:#1a1a1a;stroke-width:0.9"/>
<path d="M495 384 L501 386.6 M496 390.4 L502.4 392 L501.6 396 L497 395 M499 399 L505 400.6 L504.4 404.6 L500 403.6 M502 408 L508 409.4 L507.6 413 L503.6 412.4" class="n" style="stroke:#111;stroke-width:0.9"/>
<path d="M555.2 396.6 L558 395.8 L557.5 409.3 L561.1 415 L557.5 417.8 L553.2 433.4 L546.1 442.5 L542.8 441.9 L543.3 416.4 L550.4 403.7Z" class="p" style="stroke:#111;stroke-width:1.15"/>
<path d="M555.6 398 L551.6 406 L545.4 417 L545 440 M553 408 L556 410 L554 418 L549 420 L548 430 L552 432 M546 424 L550 425 M554 401 L556.6 402 M547 434 L550.6 436" class="n" style="stroke:#111;stroke-width:0.85"/>
<path d="M548 412 L551 410.4 L551.4 414 L548.4 415.4Z" fill="#333"/>
<path d="M505.1 467.4 L517.8 464.5 L520.1 470.8 L506.5 474.2Z" class="p" style="stroke:#111;stroke-width:1.15"/>
<path d="M507 468.6 L517 466.2 M515 465.2 L517 471.4" class="n" style="stroke:#1a1a1a;stroke-width:0.9"/>
<path d="M519.4 467 L553 457.4 M519.8 469 L553.4 459.4" class="n" style="stroke:#222;stroke-width:0.7"/>
<path d="M552.4 456 L567.4 452.6 L572.2 456 L571.6 458.9 L558.9 463.1 L553.2 460.3Z" class="p" style="stroke:#111;stroke-width:1.15"/>
<path d="M553.2 460.3 L566 456.6 L572.2 456 M566 456.6 L567.4 452.6 M558.9 463.1 L558.4 459 M561 455.6 L565 454.8 L565.6 456 L561.6 457Z" class="n" style="stroke:#1a1a1a;stroke-width:0.9"/>
<path d="M387 421.4 L400 428 L400.6 429.6 L398.6 430 L386.4 426Z" class="p" style="stroke:#222;stroke-width:0.9"/>
<path d="M389.4 422.6 l-0.8 4 M391.6 423.8 l-0.8 4 M393.8 424.8 l-0.8 4 M396 426 l-0.8 3.6 M398 427 l-0.6 3" class="n" style="stroke:#1a1a1a;stroke-width:0.9"/>
<ellipse cx="385.3" cy="423.6" rx="2.5" ry="4.6" class="p" style="stroke:#222;stroke-width:0.9" transform="rotate(-12 385.3 423.6)"/>
<path d="M410.3 432 L415.9 429.2 L421.6 433.4 L420.2 440.5 L413.1 441.9Z" class="p" style="stroke:#222;stroke-width:0.9"/>
<path d="M413 433.6 L416.4 432 L419 434.6 L418.4 438.6 L414.6 439.4Z" class="n" style="stroke:#1a1a1a;stroke-width:0.9"/>
<ellipse cx="416" cy="436" rx="1.3" ry="1.7" fill="#333"/>
<path d="M445.7 433.4 C446 432.2 443.6 437.8 442.8 439.1 C442 440.4 437 447.4 435.8 449 C434.6 450.6 429.9 456.7 428.7 458.9 C427.5 461.1 422.3 473.5 421.6 475.9 C420.9 478.3 420.1 485.8 420.2 487.2 C420.3 488.6 422.2 492.7 423 492.8 C423.8 492.9 429.3 490.2 430.1 488.6 C430.9 487 432.1 475.9 432.9 473 C433.7 470.1 438.1 456.5 439.2 453.2 C440.3 449.9 445.4 434.6 445.7 433.4Z" class="p" style="stroke:#222;stroke-width:0.9"/>
<path d="M443 441 C441.8 442.8 438.2 448.5 436 452 C433.8 455.5 431.6 457.8 429.6 462 C427.6 466.2 425.1 472.5 424 477 C422.9 481.5 423.2 487 423 489" class="n" style="stroke:#444;stroke-width:0.7"/>
<path d="M432 453.6 L430 452 L431.4 456 M427 464 L425 463 L426.4 467 M423 477 L421 476.6 L422.4 480" class="n" style="stroke:#111;stroke-width:1"/>
<path d="M465.5 434.8 L466.9 436.2 L462.6 453.2 L455.6 473 L452.2 479.3 L450.8 477.8 L455.6 461.7 L462.6 441.9Z" class="p" style="stroke:#111;stroke-width:0.9"/>
<path d="M465.6 437 L461.4 453 L454.6 472 L452 477.6" class="n" style="stroke:#111;stroke-width:0.9;stroke-dasharray:1.6 1.2"/>
</g>

<!-- i_left -->
<g>
<path d="M148.1 357.1 L144.2 363.6 M137.2 361 L228.7 417.6 L237.8 415.6 M162.4 376.6 L170.2 374 M176.7 384.9 L184.5 382.3 M191 392.7 L198.8 390.1 M204 401.3 L211 398.1 M217 410.9 L226.1 407.8" class="n" style="stroke:#111;stroke-width:1.1"/>
<path d="M237.8 374 L237.8 389.6 M222.2 381.3 L267 406.7" class="n" style="stroke:#111;stroke-width:1.1"/>
<path d="M91.3 374.2 C91.8 373.2 94.9 368.6 96 367.9 C97.1 367.2 100.3 366.8 102.3 367.5 C104.3 368.2 113.4 373.4 116.4 374.9 C119.4 376.4 129 381.2 132.2 382.8 C135.3 384.4 144.8 388.9 147.9 390.7 C151 392.5 160.5 398.8 163.6 400.9 C166.7 403 176.2 409.5 179.3 411.9 C182.5 414.3 192.6 422.1 195.1 424.5 C197.6 426.9 203.3 433.5 204.5 435.5 C205.7 437.5 206.9 443.2 206.9 444.9 C206.9 446.6 205.1 451.8 204.5 452.8 C203.9 453.8 202 455.6 201.4 455.1 C200.8 454.6 199.1 449.9 198.2 448.1 C197.2 446.3 193.8 438.9 191.9 437 C190 435.1 182.1 431.2 179.3 429.2 C176.5 427.2 166.7 418.8 163.6 416.6 C160.5 414.4 151 409 147.9 407.2 C144.8 405.4 135.3 400.1 132.2 398.5 C129 396.9 119.2 392 116.4 390.7 C113.6 389.4 106.1 386.1 103.9 385.2 C101.7 384.2 95.7 381.9 94.4 381.2 C93.1 380.5 91.6 378.8 91.3 378.1 C91 377.4 90.8 375.2 91.3 374.2Z" class="p" style="stroke:#111;stroke-width:1.15"/>
<path d="M94.7 370.6 C95.7 370.5 97.5 369 101 370.2 C104.4 371.4 110.1 375 115.1 377.6 C120 380.1 125.6 382.9 130.8 385.5 C136.1 388.1 141.3 390.4 146.6 393.4 C151.8 396.4 157 400.1 162.2 403.6 C167.5 407.1 172.7 410.7 178 414.6 C183.2 418.5 189.6 423.3 193.8 427.2 C197.9 431.1 201.6 436.4 203.2 438.2" class="n" style="stroke:#111;stroke-width:1"/>
<path d="M93.3 373.3 C94.3 373.2 96.2 371.7 99.6 372.9 C103 374.1 108.7 377.7 113.7 380.3 C118.7 382.8 124.2 385.6 129.5 388.2 C134.8 390.8 140 393.1 145.2 396.1 C150.4 399.1 155.7 402.8 160.9 406.3 C166.1 409.8 171.4 413.4 176.6 417.3 C181.9 421.2 188.2 426 192.4 429.9 C196.6 433.8 200.2 439.1 201.8 440.9" class="n" style="stroke:#111;stroke-width:0.9"/>
<path d="M98 376.1 C100.4 377.3 107.1 380.9 112.1 383.4 C117.1 386 122.7 388.7 127.9 391.4 C133.2 394 138.4 396.2 143.6 399.2 C148.9 402.3 154.1 405.9 159.3 409.4 C164.6 413 169.8 416.5 175 420.4 C180.3 424.4 186.6 429.1 190.8 433.1 C195 437 198.7 442.2 200.2 444.1" class="n" style="stroke:#111;stroke-width:0.9"/>
<path d="M99.3 371.5 l-3.6 7.4 M106.3 374.5 l-2.4 5 M113.4 378.9 l-3.6 7.4 M120.4 381.9 l-2.4 5 M129.2 386.8 l-3.6 7.4 M136.2 389.8 l-2.4 5 M144.9 394.7 l-3.6 7.4 M151.9 397.7 l-2.4 5 M160.6 404.9 l-3.6 7.4 M167.6 407.9 l-2.4 5 M176.3 415.9 l-3.6 7.4 M183.3 418.9 l-2.4 5 M192.1 428.5 l-3.6 7.4 M199.1 431.5 l-2.4 5 M201.5 439.5 l-3.6 7.4 M208.5 442.5 l-2.4 5" class="n" style="stroke:#111;stroke-width:0.9"/>
<ellipse cx="113.5" cy="380.6" rx="2.6" ry="2.2" class="p" style="stroke:#111;stroke-width:1"/>
<rect x="116.5" y="382.0" width="3.4" height="2.2" fill="#333" transform="rotate(32 116.5 382.0)"/>
<ellipse cx="135.0" cy="391.5" rx="2.6" ry="2.2" class="p" style="stroke:#111;stroke-width:1"/>
<rect x="138.0" y="392.9" width="3.4" height="2.2" fill="#333" transform="rotate(32 138.0 392.9)"/>
<ellipse cx="153.0" cy="402.0" rx="2.6" ry="2.2" class="p" style="stroke:#111;stroke-width:1"/>
<rect x="156.0" y="403.4" width="3.4" height="2.2" fill="#333" transform="rotate(32 156.0 403.4)"/>
<ellipse cx="170.0" cy="414.5" rx="2.6" ry="2.2" class="p" style="stroke:#111;stroke-width:1"/>
<rect x="173.0" y="415.9" width="3.4" height="2.2" fill="#333" transform="rotate(32 173.0 415.9)"/>
<ellipse cx="184.0" cy="425.0" rx="2.6" ry="2.2" class="p" style="stroke:#111;stroke-width:1"/>
<rect x="187.0" y="426.4" width="3.4" height="2.2" fill="#333" transform="rotate(32 187.0 426.4)"/>
<path d="M199 436 C199.7 437.3 202.6 441.3 203 444 C203.4 446.7 201.8 450.7 201.6 452" class="n" style="stroke:#555;stroke-width:0.6"/>
<path d="M56.7 407.8 C56.4 407.1 64.6 404 67 404.6 C69.4 405.2 82.3 413.4 85.8 415.6 C89.3 417.8 105.4 428.6 109.1 431.2 C112.8 433.8 127.1 444.9 129.9 446.8 C132.7 448.7 141.3 453.2 142.4 454.5 C143.5 455.8 143.1 461.6 142.9 462.3 C142.8 463 140.9 462.9 140.6 462.6 C140.3 462.3 140 459.8 139 459.2 C138 458.6 131.1 457.5 128.6 455.8 C126.1 454.1 112.4 441.7 109.1 439 C105.8 436.3 91.6 425.6 88.4 423.4 C85.2 421.2 72.8 414.3 70.2 413 C67.6 411.7 57 408.5 56.7 407.8Z" class="p" style="stroke:#222;stroke-width:0.9"/>
<path d="M60 408.6 C62 409 67 408.8 72 411 C77 413.2 83.7 417.4 90 421.6 C96.3 425.8 103.5 431.3 110 436.4 C116.5 441.5 125.8 449.4 129 452" class="n" style="stroke:#666;stroke-width:0.6"/>
<path d="M129.9 446.8 L128.6 455.8 M134 450 L139 459.2" class="n" style="stroke:#1a1a1a;stroke-width:0.9"/>
<ellipse cx="109.6" cy="404" rx="2.8" ry="4" fill="#34557a" transform="rotate(-20 109.6 404)"/>
<path d="M111 403.6 L117 402 L117.4 403.4 L111.6 405.4Z" fill="#34557a"/>
<path d="M28.1 423.9 L31.2 422.8 L48.1 435 L49.4 438.4 L42.9 439 L29.9 428.6Z" class="p" style="stroke:#111;stroke-width:1.15"/>
<path d="M30 425.4 L46 437 M29.6 426.6 L43.6 437.6" class="n" style="stroke:#1a1a1a;stroke-width:0.9"/>
<path d="M74.1 440.2 L80.6 440.1 M84.5 440 L94.9 439.7" class="n" style="stroke:#333;stroke-width:0.8"/>
<path d="M80.6 438 L82 437.6 L82.2 438.4 L84 438.4 Q85 440.2 84 442 L82.2 442 L82 442.8 L80.6 442.4Z" class="p" style="stroke:#333;stroke-width:0.8"/>
<path d="M9.1 434.7 L18.9 437.9 L37.7 450.2 L56.6 462.5 L75.5 475.7 L84.9 483.2 L92.5 491.7 L95.8 502.1 L92.5 507.7 L84.9 510.6 L77.4 514.3 L75.5 519.1 L67 521.9 L58.5 518.1 L56.6 512.5 L49.1 508.7 L37.7 503 L34.9 495.5 L35.8 489.8 L30.2 487.9 L20.8 485.1 L21.7 480.4 L28.3 474.7 L33 470.9 L30.2 463.4 L23.6 459.6 L22.3 454 L15.1 451.1 L13.2 442.6 L9.8 439.8Z" class="p" style="stroke:#111;stroke-width:1.15"/>
<path d="M9.4 435.8 C11 436.4 14.2 436.6 18.9 439.2 C23.6 441.9 31.4 447.4 37.7 451.5 C44 455.6 50.3 459.5 56.6 463.8 C62.9 468 70.8 473.5 75.5 477 C80.1 480.4 81.8 481.9 84.5 484.5 C87.2 487.2 90 489.9 91.7 492.8 C93.4 495.8 94.2 500.7 94.7 502.3" class="n" style="stroke:#111;stroke-width:1.3"/>
<path d="M10.6 438.1 C11.9 438.6 14.3 438.6 18.9 441.1 C23.4 443.7 31.4 449.3 37.7 453.4 C44 457.5 50.4 461.4 56.6 465.7 C62.8 469.9 70.7 475.5 75.1 478.9 C79.5 482.3 80.6 483.5 83 486 C85.4 488.6 87.9 491.1 89.4 494 C91 496.8 91.9 501.5 92.5 503" class="n" style="stroke:#111;stroke-width:0.95"/>
<path d="M13.2 442.6 L20.8 445.5 L19.8 453 L14.2 451.1Z" class="n" style="stroke:#111;stroke-width:0.95"/>
<path d="M23.6 451.1 L30.2 454.9 L29.2 462.5 L22.6 459.6Z" class="n" style="stroke:#111;stroke-width:0.95"/>
<path d="M33 460.6 L42.5 465.3 L40.6 474.7 L32.1 470.9Z" class="n" style="stroke:#111;stroke-width:0.95"/>
<path d="M46.2 467.2 L54.7 470.9 L52.8 476.6 L45.3 474.7Z" class="n" style="stroke:#111;stroke-width:0.95"/>
<path d="M60.4 472.8 L72.6 479.4 L71.7 487.9 L65.1 485.1Z" class="n" style="stroke:#111;stroke-width:0.95"/>
<path d="M75.5 482.3 L84.9 486 L84 494.5 L76.4 492.6Z" class="n" style="stroke:#111;stroke-width:0.95"/>
<path d="M28.3 474.7 L50.9 476.6 L75.5 494.5 L62.3 499.2 L35.8 489.8Z" class="n" style="stroke:#111;stroke-width:0.95"/>
<path d="M43.4 484.2 L54.7 485.1 L64.2 492.6 L52.8 492.6Z" class="n" style="stroke:#111;stroke-width:0.95"/>
<path d="M35.8 489.8 L62.3 499.2 L64.2 508.7 L56.6 512.5 L37.7 503Z" class="n" style="stroke:#111;stroke-width:0.95"/>
<path d="M20.8 480.4 L28.3 482.3 L28.3 487.9 L21.7 486Z" class="n" style="stroke:#111;stroke-width:0.95"/>
<path d="M67 503 L79.2 505.8 L77.4 514.3 L67 521.9 L58.5 518.1 L57.5 512.5Z" class="n" style="stroke:#111;stroke-width:0.95"/>
<path d="M69.8 504 L78.3 505.8 L75.5 508.7 L67.9 506.8Z" class="n" style="stroke:#111;stroke-width:0.95"/>
<path d="M79.2 495.5 L88.7 493.6 L95.3 502.1 L92.5 507.7 L84.9 510.6Z" class="n" style="stroke:#111;stroke-width:0.95"/>
<path d="M15.1 444.5 L18.9 446 L18.3 450.2 L15.5 449.2ZM24.5 453.6 L28.3 455.5 L27.7 460 L24.2 458.7ZM61.3 513.4 L66 514.3 L65.1 519.1 L60.8 517.2ZM67 486 L70.8 487.5 L70.2 484.2 L66.4 482.6ZM38.7 494.5 L42.5 495.8 L42.5 500.2 L39.1 498.9Z" fill="#3a3a3a"/>
<path d="M40.6 468.1 C40.3 469.5 38.1 474.2 38.7 476.6 C39.3 479 44 480.4 44.3 482.3 C44.7 484.2 42 486.7 40.6 487.9 C39.2 489.2 36.6 489.5 35.8 489.8" class="n" style="stroke:#111;stroke-width:1.2"/>
<path d="M50.9 476.6 L56.6 480.4 L65.1 485.1 M75.5 494.5 L79.2 495.5 M62.3 499.2 L67.0 503.0 M85.8 495.5 L88.7 503.0 L86.8 508.7 M37.7 503.0 L49.1 508.7 L56.6 512.5 M47.2 495.5 L48.1 504.9 M54.7 497.4 L55.7 508.7" class="n" style="stroke:#111;stroke-width:0.95"/>
<ellipse cx="114.2" cy="497.4" rx="4.5" ry="7.3" class="p" style="stroke:#444;stroke-width:0.9" transform="rotate(-12 114.2 497.4)"/>
<ellipse cx="114.2" cy="497.6" rx="0.8" ry="1.3" fill="#555"/>
<path d="M130.4 492.4 L163.7 484.1 M133 492.6 L163 485.4" class="n" style="stroke:#444;stroke-width:0.7"/>
<path d="M163.7 479.6 L167.4 478.8 L167.8 485.8 L164.4 486.4Z" class="p" style="stroke:#222;stroke-width:0.9"/>
<path d="M184 472 C183.5 471.4 189.8 469.9 191.7 470 C193.6 470.1 200.8 471.8 203.2 472.7 C205.6 473.6 213.7 477.9 215.6 478.9 C217.5 479.9 221.6 482.3 221.9 483.1 C222.2 483.9 220.1 486.7 218.8 486.6 C217.6 486.5 211.6 483.1 209.4 482 C207.2 480.9 199.4 476.8 196.9 475.8 C194.4 474.8 184.5 472.6 184 472Z" class="p" style="stroke:#777;stroke-width:0.8"/>
<path d="M179.3 489.3 C179.3 489.1 180.4 489.3 182.4 490.3 C184.4 491.3 196.1 497.6 199 499.7 C201.9 501.8 209.4 508.5 211.5 511.1 C213.6 513.7 218.7 523.2 219.8 525.7 C220.9 528.2 222.3 534.9 222.3 536.1 C222.3 537.4 220 538.8 219.4 538.2 C218.8 537.6 217.7 532.1 216.7 529.8 C215.7 527.5 211.4 518 209.4 515.3 C207.4 512.6 199.6 505.1 196.9 502.8 C194.2 500.5 184.2 493.8 182.4 492.4 C180.6 491 179.3 489.5 179.3 489.3Z" class="p" style="stroke:#555;stroke-width:0.9"/>
<path d="M182 491.4 C184.7 493 193.3 497.4 198 501 C202.7 504.6 207.1 508.7 210.4 513 C213.7 517.3 216.3 523.1 218 527 C219.7 530.9 220.2 535 220.6 536.6" class="n" style="stroke:#888;stroke-width:0.6"/>
<path d="M223.5 496.2 C223.3 495.2 227 493.8 228.1 493.5 C229.2 493.2 232.8 491.9 234.3 492.8 C235.8 493.7 241.1 500.8 242.7 502.8 C244.3 504.8 248.9 511.5 249.9 513.2 C250.9 514.9 252.5 518.6 252.4 519.4 C252.3 520.2 249.4 521.1 248.9 521.5 C248.4 521.9 246.8 521.9 247 523 C247.2 524.1 250.4 531.8 250.6 533 C250.8 534.2 249.1 535.5 248.5 535 C247.9 534.5 245.7 529.8 244.7 527.8 C243.7 525.8 239.9 517.7 238.5 515.3 C237.1 512.9 231.7 505.8 230.2 503.9 C228.7 502 223.7 497.2 223.5 496.2Z" class="p" style="stroke:#111;stroke-width:1.1"/>
<path d="M226 496.6 C227.2 497.7 230.5 499.9 233 503 C235.5 506.1 238.7 511.2 241 515 C243.3 518.8 245.2 522.9 246.6 526 C248 529.1 248.9 532.3 249.4 533.6" class="n" style="stroke:#111;stroke-width:1"/>
<path d="M229 495 C230.3 496.3 234.1 499.5 236.6 502.6 C239.1 505.7 241.9 510.5 244 513.6 C246.1 516.7 248.2 519.8 249 521" class="n" style="stroke:#111;stroke-width:1"/>
<path d="M232 494 C233.3 495.6 237.5 500.3 240 503.6 C242.5 506.9 245.2 511.3 247 514 C248.8 516.7 250 519 250.6 520" class="n" style="stroke:#444;stroke-width:0.7"/>
<path d="M302.6 479.6 L305.4 479.6 L305.4 485 L306 486.4 L302 486.4 L302.6 485Z" class="p" style="stroke:#333;stroke-width:0.8"/>
<path d="M304.1 486.4 L304.2 499" class="n" style="stroke:#333;stroke-width:0.9"/>
</g>

<g class="l" opacity="0.999">
<text x="147.0" y="32.8">840</text>
<text x="16.0" y="67.3">780</text>
<text x="76.0" y="75.3">850</text>
<text x="216.0" y="69.3">800</text>
<text x="274.0" y="73.3">790</text>
<text x="145.0" y="125.3">820</text>
<text x="91.0" y="129.3">870</text>
<text x="272.0" y="138.3">810</text>
<text x="147.0" y="154.3">690</text>
<text x="204.0" y="174.3">540</text>
<text x="164.0" y="182.3">535</text>
<text x="110.0" y="184.3">860</text>
<text x="235.0" y="201.3">60</text>
<text x="270.0" y="199.3">55</text>
<text x="33.9" y="234.3">785</text>
<text x="78.3" y="239.6">830</text>
<text x="135.0" y="224.5">530</text>
<text x="243.8" y="250.3">50</text>
<text x="4.0" y="281.3">160</text>
<text x="329.0" y="294.3">190</text>
<text x="357.0" y="322.3">170</text>
<text x="554.0" y="95.3">405</text>
<text x="496.0" y="133.3">400</text>
<text x="408.0" y="185.3">630</text>
<text x="359.0" y="203.3">620</text>
<text x="443.0" y="216.3">600</text>
<text x="830.0" y="41.3">560</text>
<text x="890.0" y="29.3">555</text>
<text x="922.0" y="64.3">550</text>
<text x="692.5" y="123.3">490</text>
<text x="725.0" y="146.8">480</text>
<text x="764.0" y="175.3">470</text>
<text x="913.0" y="156.8">430</text>
<text x="646.0" y="211.3">500</text>
<text x="889.0" y="221.3">420</text>
<text x="701.6" y="262.3">180</text>
<text x="753.0" y="321.3">510</text>
<text x="803.0" y="327.3">528</text>
<text x="846.7" y="319.6">525</text>
<text x="897.0" y="292.9">520</text>
<text x="851.5" y="386.3">710</text>
<text x="768.0" y="417.8">700</text>
<text x="376.0" y="271.3">610</text>
<text x="504.7" y="243.3">670</text>
<text x="426.0" y="311.3">640</text>
<text x="524.0" y="313.3">660</text>
<text x="609.0" y="300.3">450</text>
<text x="425.7" y="348.3">110</text>
<text x="380.7" y="392.3">100</text>
<text x="502.0" y="372.3">650</text>
<text x="408.0" y="423.3">150</text>
<text x="570.7" y="420.3">440</text>
<text x="140.7" y="354.3">495</text>
<text x="224.0" y="371.0">498</text>
<text x="42.0" y="397.3">210</text>
<text x="7.0" y="417.3">250</text>
<text x="113.2" y="424.3" letter-spacing="-1.5">11</text>
<text x="73.0" y="462.0">230</text>
<text x="215.0" y="446.3">25</text>
<text x="222.0" y="478.3">90</text>
<text x="139.7" y="511.3">220</text>
<text x="102.0" y="529.0">240</text>
<text x="34.0" y="541.3">200</text>
<text x="183.0" y="535.3">70</text>
<text x="248.0" y="553.3">80</text>
<text x="296.7" y="518.0">30</text>
<text x="368.0" y="449.3">140</text>
<text x="409.0" y="513.3">130</text>
<text x="449.7" y="500.3">120</text>
<text x="531.0" y="492.0">580</text>
<text x="860.0" y="485.8">750</text>
<text x="773.0" y="527.3">760</text>
<text x="890.7" y="523.3">740</text>
<text x="834.0" y="541.7">720</text>
<text x="826.0" y="627.1">730</text>
<text x="911.0" y="615.3">735</text>
</g>
<g opacity="0.999">
<rect x="332.7" y="13.0" width="21.3" height="20.0" fill="#d9d9d9"/>
<text x="343.4" y="29.1" text-anchor="middle" font-size="17" fill="#8c8c8c">14</text>
<rect x="397.0" y="19.0" width="21.0" height="20.0" fill="#d9d9d9"/>
<text x="407.5" y="35.1" text-anchor="middle" font-size="17" fill="#8c8c8c">16</text>
<rect x="402.0" y="48.0" width="21.0" height="20.0" fill="#d9d9d9"/>
<text x="412.5" y="64.1" text-anchor="middle" font-size="17" fill="#8c8c8c">15</text>
<rect x="461.0" y="51.0" width="21.0" height="19.0" fill="#d9d9d9"/>
<text x="471.5" y="66.6" text-anchor="middle" font-size="17" fill="#8c8c8c">12</text>
<rect x="342.0" y="64.0" width="22.0" height="20.0" fill="#d9d9d9"/>
<text x="353.0" y="80.1" text-anchor="middle" font-size="17" fill="#8c8c8c">17</text>
<rect x="444.0" y="111.0" width="22.0" height="20.0" fill="#d9d9d9"/>
<text x="455.0" y="127.1" text-anchor="middle" font-size="17" fill="#8c8c8c">13</text>
<rect x="415.0" y="124.0" width="21.0" height="20.0" fill="#d9d9d9"/>
<text x="425.5" y="140.1" text-anchor="middle" font-size="17" fill="#8c8c8c">19</text>
<rect x="383.0" y="146.0" width="22.0" height="20.0" fill="#d9d9d9"/>
<text x="394.0" y="162.1" text-anchor="middle" font-size="17" fill="#8c8c8c">18</text>
<rect x="165.4" y="224.0" width="21.4" height="19.2" fill="#d9d9d9"/>
<text x="176.1" y="239.7" text-anchor="middle" font-size="17" fill="#8c8c8c">20</text>
<rect x="827.0" y="182.0" width="30.5" height="20.0" fill="#d9d9d9"/>
<text x="842.2" y="198.1" text-anchor="middle" font-size="17" fill="#8c8c8c">410</text>
<rect x="805.0" y="217.0" width="32.0" height="21.0" fill="#d9d9d9"/>
<text x="821.0" y="233.6" text-anchor="middle" font-size="17" fill="#8c8c8c">460</text>
<rect x="326.7" y="464.0" width="21.0" height="20.0" fill="#a5d3e6"/>
<text x="337.2" y="480.1" text-anchor="middle" font-size="17" fill="#2d4f66">10</text>
</g>
<!-- z_arrows -->
<g>
<path d="M367.9 128.6 C366.9 132.1 364.3 142.1 361.4 149.5 C358.6 156.8 354.8 164.9 351 172.7 C347.1 180.5 341.6 190.6 338.2 196.3 C334.8 202 333.4 203 330.5 207.1 C327.6 211.2 324.2 216.7 320.8 220.9 C317.3 225.1 313.8 228.6 309.9 232.1 C306.1 235.7 301.8 239.4 297.8 242.3 C293.7 245.3 289.1 247.8 285.5 250 C281.9 252.1 277.7 254.3 276.2 255.2 L277 260.4 L264.8 262.3 L273.9 252.9 L277.8 258.2 C279.4 257.4 283.6 255.3 287.3 253.2 C291.1 251.2 295.9 248.8 300.2 245.9 C304.6 243 309.1 239.4 313.3 235.9 C317.4 232.3 321.3 228.7 325 224.5 C328.7 220.3 332.4 214.9 335.5 210.7 C338.6 206.6 340.2 205.5 343.8 199.7 C347.4 193.9 353.2 183.8 357.2 175.9 C361.3 167.9 365.1 159.5 368 151.9 C370.8 144.4 373.2 134.1 374.3 130.6Z" fill="#0a0a0a"/>
<path d="M323.5 485 L345 511 L365 534 L385 558 L405.9 583" fill="none" stroke="#fb0d1b" stroke-width="2.7" stroke-linecap="round"/>
<path d="M312.7 472.2 L327.8 481.8 L318.6 489.1Z" fill="#fb0d1b" stroke="#fb0d1b" stroke-width="0.8" stroke-linejoin="round"/>
</g>

<!-- z_wm -->
<g>
<defs><mask id="wmm" maskUnits="userSpaceOnUse" x="0" y="0" width="962" height="636"><rect width="962" height="636" fill="#fff"/><text x="0" y="0" transform="translate(36 640) rotate(-31.6)" font-size="116" font-weight="bold" stroke-linejoin="round" style="font-family:'Liberation Sans',sans-serif" fill="#000" stroke="#000" stroke-width="4">magazinmercedes.ru</text></mask></defs>
<g mask="url(#wmm)"><text x="0" y="0" transform="translate(36 640) rotate(-31.6)" font-size="116" font-weight="bold" stroke-linejoin="round" style="font-family:'Liberation Sans',sans-serif" fill="#cfcfcf" stroke="#cfcfcf" stroke-opacity="1" stroke-width="8.4" opacity="0.5">magazinmercedes.ru</text></g>
</g>

</svg></body></html>
